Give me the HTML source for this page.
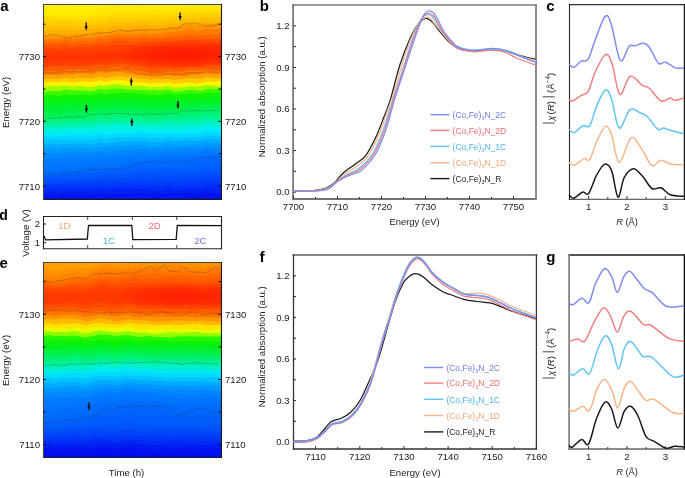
<!DOCTYPE html>
<html><head><meta charset="utf-8"><style>
html,body{margin:0;padding:0;background:#fff;width:685px;height:478px;overflow:hidden;position:relative}
svg text{font-family:"Liberation Sans", sans-serif}
svg{will-change:transform}
</style></head><body>
<svg width="685" height="478" viewBox="0 0 685 478" style="position:absolute;left:0;top:0">
<svg x="43" y="4" width="178" height="195" viewBox="43 4 178 195" overflow="hidden">
<rect x="43" y="4" width="178" height="195" fill="rgb(255,240,0)"/>
<path d="M43,201 L43.0,8.5 L46.0,8.5 L49.0,8.1 L52.0,7.8 L55.0,8.0 L58.0,7.9 L61.0,7.7 L64.0,7.4 L67.0,7.5 L70.0,8.1 L73.0,8.8 L76.0,7.9 L79.0,7.8 L82.0,7.7 L85.0,7.9 L88.0,8.5 L91.0,8.4 L94.0,7.8 L97.0,6.9 L100.0,6.5 L103.0,7.0 L106.0,7.2 L109.0,6.7 L112.0,6.1 L115.0,5.4 L118.0,5.5 L121.0,5.7 L124.0,6.3 L127.0,6.1 L130.0,6.3 L133.0,5.9 L136.0,6.0 L139.0,5.8 L142.0,5.2 L145.0,5.5 L148.0,5.7 L151.0,6.0 L154.0,5.4 L157.0,6.0 L160.0,5.8 L163.0,5.6 L166.0,5.0 L169.0,4.8 L172.0,5.2 L175.0,5.6 L178.0,5.0 L181.0,4.7 L184.0,4.0 L187.0,3.7 L190.0,3.6 L193.0,4.1 L196.0,5.0 L199.0,5.3 L202.0,4.8 L205.0,4.1 L208.0,3.8 L211.0,3.6 L214.0,3.6 L217.0,3.4 L220.0,3.0 L221.0,3.0 L221,201 Z" fill="rgb(255,234,0)"/>
<path d="M43,201 L43.0,12.1 L46.0,12.4 L49.0,11.7 L52.0,11.4 L55.0,12.1 L58.0,12.6 L61.0,12.2 L64.0,11.7 L67.0,11.7 L70.0,11.8 L73.0,12.5 L76.0,11.6 L79.0,11.3 L82.0,11.6 L85.0,11.7 L88.0,11.9 L91.0,12.1 L94.0,12.1 L97.0,10.6 L100.0,9.8 L103.0,10.5 L106.0,10.7 L109.0,9.9 L112.0,9.6 L115.0,9.5 L118.0,9.6 L121.0,9.3 L124.0,10.1 L127.0,10.1 L130.0,9.8 L133.0,9.3 L136.0,9.8 L139.0,9.5 L142.0,9.1 L145.0,9.3 L148.0,9.7 L151.0,9.9 L154.0,9.2 L157.0,9.7 L160.0,10.1 L163.0,9.8 L166.0,9.5 L169.0,9.2 L172.0,9.5 L175.0,9.7 L178.0,9.3 L181.0,8.8 L184.0,8.1 L187.0,7.7 L190.0,7.0 L193.0,7.4 L196.0,8.3 L199.0,8.6 L202.0,8.0 L205.0,7.7 L208.0,7.5 L211.0,7.6 L214.0,8.0 L217.0,8.0 L220.0,7.3 L221.0,7.2 L221,201 Z" fill="rgb(255,228,0)"/>
<path d="M43,201 L43.0,16.9 L46.0,16.8 L49.0,16.4 L52.0,16.1 L55.0,17.0 L58.0,17.4 L61.0,17.0 L64.0,16.2 L67.0,16.3 L70.0,16.7 L73.0,17.4 L76.0,16.7 L79.0,16.6 L82.0,16.5 L85.0,16.4 L88.0,16.8 L91.0,16.7 L94.0,16.7 L97.0,15.7 L100.0,14.9 L103.0,15.6 L106.0,15.7 L109.0,15.1 L112.0,14.1 L115.0,13.5 L118.0,13.3 L121.0,13.2 L124.0,13.6 L127.0,13.8 L130.0,13.9 L133.0,13.4 L136.0,13.6 L139.0,13.4 L142.0,13.3 L145.0,13.4 L148.0,13.9 L151.0,14.7 L154.0,13.9 L157.0,14.1 L160.0,13.9 L163.0,13.3 L166.0,12.1 L169.0,12.1 L172.0,12.5 L175.0,13.2 L178.0,12.8 L181.0,12.9 L184.0,12.3 L187.0,11.7 L190.0,11.2 L193.0,11.3 L196.0,11.5 L199.0,11.2 L202.0,11.2 L205.0,10.5 L208.0,10.7 L211.0,11.1 L214.0,11.5 L217.0,11.3 L220.0,11.1 L221.0,10.8 L221,201 Z" fill="rgb(255,216,0)"/>
<path d="M43,201 L43.0,21.3 L46.0,21.1 L49.0,21.1 L52.0,21.0 L55.0,21.0 L58.0,21.4 L61.0,21.1 L64.0,20.4 L67.0,20.3 L70.0,21.1 L73.0,21.9 L76.0,21.4 L79.0,21.4 L82.0,21.2 L85.0,20.8 L88.0,21.1 L91.0,20.6 L94.0,20.0 L97.0,18.8 L100.0,18.1 L103.0,19.0 L106.0,19.2 L109.0,18.6 L112.0,18.1 L115.0,17.8 L118.0,17.1 L121.0,17.4 L124.0,17.9 L127.0,18.1 L130.0,17.8 L133.0,17.6 L136.0,17.6 L139.0,17.6 L142.0,17.2 L145.0,17.7 L148.0,18.1 L151.0,18.4 L154.0,17.4 L157.0,17.6 L160.0,17.5 L163.0,17.0 L166.0,16.2 L169.0,16.1 L172.0,16.3 L175.0,16.8 L178.0,16.5 L181.0,16.6 L184.0,15.7 L187.0,15.2 L190.0,14.6 L193.0,14.6 L196.0,15.0 L199.0,15.3 L202.0,15.1 L205.0,14.4 L208.0,14.3 L211.0,14.4 L214.0,14.6 L217.0,14.5 L220.0,13.9 L221.0,14.0 L221,201 Z" fill="rgb(255,205,0)"/>
<path d="M43,201 L43.0,25.7 L46.0,25.8 L49.0,25.5 L52.0,25.4 L55.0,26.3 L58.0,26.3 L61.0,26.1 L64.0,25.6 L67.0,25.4 L70.0,25.8 L73.0,26.6 L76.0,25.8 L79.0,25.8 L82.0,25.9 L85.0,25.4 L88.0,25.6 L91.0,25.3 L94.0,24.8 L97.0,23.4 L100.0,23.1 L103.0,23.7 L106.0,24.0 L109.0,22.9 L112.0,22.2 L115.0,21.7 L118.0,21.9 L121.0,21.7 L124.0,22.5 L127.0,22.7 L130.0,22.3 L133.0,21.7 L136.0,21.6 L139.0,21.3 L142.0,21.0 L145.0,21.2 L148.0,21.4 L151.0,21.6 L154.0,21.3 L157.0,21.7 L160.0,21.7 L163.0,21.6 L166.0,21.3 L169.0,20.5 L172.0,20.4 L175.0,20.5 L178.0,19.7 L181.0,18.9 L184.0,18.4 L187.0,17.9 L190.0,17.7 L193.0,17.6 L196.0,18.3 L199.0,18.0 L202.0,17.7 L205.0,16.8 L208.0,17.1 L211.0,17.3 L214.0,17.9 L217.0,18.0 L220.0,17.5 L221.0,17.3 L221,201 Z" fill="rgb(255,191,0)"/>
<path d="M43,201 L43.0,31.2 L46.0,31.2 L49.0,30.6 L52.0,30.2 L55.0,30.7 L58.0,30.8 L61.0,30.3 L64.0,29.9 L67.0,30.2 L70.0,30.8 L73.0,31.6 L76.0,30.8 L79.0,30.3 L82.0,29.5 L85.0,29.2 L88.0,29.6 L91.0,29.2 L94.0,29.1 L97.0,28.4 L100.0,27.6 L103.0,28.0 L106.0,28.4 L109.0,27.5 L112.0,26.7 L115.0,26.3 L118.0,26.1 L121.0,26.0 L124.0,26.6 L127.0,26.6 L130.0,26.3 L133.0,25.7 L136.0,25.6 L139.0,25.2 L142.0,24.7 L145.0,25.1 L148.0,25.1 L151.0,25.8 L154.0,25.3 L157.0,25.4 L160.0,25.3 L163.0,25.2 L166.0,24.4 L169.0,23.5 L172.0,23.9 L175.0,24.2 L178.0,23.7 L181.0,23.1 L184.0,22.8 L187.0,22.2 L190.0,21.5 L193.0,21.6 L196.0,22.5 L199.0,22.3 L202.0,22.0 L205.0,21.5 L208.0,21.4 L211.0,21.7 L214.0,22.0 L217.0,21.9 L220.0,21.4 L221.0,21.2 L221,201 Z" fill="rgb(255,174,0)"/>
<path d="M43,201 L43.0,35.8 L46.0,35.9 L49.0,35.6 L52.0,34.8 L55.0,34.9 L58.0,35.3 L61.0,35.1 L64.0,34.3 L67.0,34.4 L70.0,34.9 L73.0,35.5 L76.0,34.5 L79.0,34.6 L82.0,34.6 L85.0,34.2 L88.0,34.4 L91.0,34.2 L94.0,33.5 L97.0,32.1 L100.0,31.4 L103.0,32.1 L106.0,32.2 L109.0,31.7 L112.0,31.1 L115.0,30.7 L118.0,30.4 L121.0,30.2 L124.0,30.5 L127.0,30.2 L130.0,29.8 L133.0,29.4 L136.0,29.2 L139.0,29.2 L142.0,28.7 L145.0,29.1 L148.0,29.3 L151.0,30.2 L154.0,29.3 L157.0,30.0 L160.0,29.7 L163.0,29.5 L166.0,28.4 L169.0,27.6 L172.0,27.3 L175.0,27.4 L178.0,26.7 L181.0,25.9 L184.0,25.1 L187.0,24.5 L190.0,24.0 L193.0,24.0 L196.0,24.9 L199.0,25.1 L202.0,24.9 L205.0,24.5 L208.0,24.3 L211.0,24.2 L214.0,24.3 L217.0,24.0 L220.0,23.5 L221.0,23.9 L221,201 Z" fill="rgb(255,149,0)"/>
<path d="M43,201 L43.0,39.5 L46.0,39.3 L49.0,38.9 L52.0,38.6 L55.0,39.0 L58.0,38.9 L61.0,38.7 L64.0,38.0 L67.0,37.8 L70.0,38.0 L73.0,38.8 L76.0,37.8 L79.0,37.5 L82.0,37.5 L85.0,37.6 L88.0,38.0 L91.0,38.1 L94.0,37.7 L97.0,36.4 L100.0,35.8 L103.0,36.3 L106.0,36.1 L109.0,35.4 L112.0,34.6 L115.0,34.0 L118.0,33.8 L121.0,33.8 L124.0,34.3 L127.0,34.4 L130.0,34.3 L133.0,34.1 L136.0,34.2 L139.0,34.0 L142.0,33.4 L145.0,33.6 L148.0,33.8 L151.0,34.2 L154.0,33.3 L157.0,33.9 L160.0,33.8 L163.0,33.3 L166.0,32.3 L169.0,32.0 L172.0,32.0 L175.0,32.1 L178.0,31.3 L181.0,31.2 L184.0,30.2 L187.0,29.6 L190.0,29.5 L193.0,29.7 L196.0,30.1 L199.0,30.4 L202.0,30.3 L205.0,29.2 L208.0,28.7 L211.0,29.2 L214.0,29.4 L217.0,29.0 L220.0,28.9 L221.0,29.2 L221,201 Z" fill="rgb(255,123,0)"/>
<path d="M43,201 L43.0,41.7 L46.0,41.9 L49.0,41.7 L52.0,41.1 L55.0,41.7 L58.0,41.8 L61.0,41.4 L64.0,40.5 L67.0,40.8 L70.0,41.3 L73.0,42.1 L76.0,41.0 L79.0,41.3 L82.0,41.0 L85.0,40.9 L88.0,41.0 L91.0,41.3 L94.0,40.6 L97.0,39.3 L100.0,38.5 L103.0,39.5 L106.0,39.5 L109.0,38.7 L112.0,38.2 L115.0,37.5 L118.0,37.5 L121.0,37.2 L124.0,38.0 L127.0,38.1 L130.0,38.1 L133.0,37.5 L136.0,37.8 L139.0,37.4 L142.0,36.9 L145.0,37.2 L148.0,37.4 L151.0,38.0 L154.0,37.3 L157.0,37.9 L160.0,38.0 L163.0,37.8 L166.0,36.7 L169.0,36.4 L172.0,36.4 L175.0,36.3 L178.0,35.7 L181.0,35.4 L184.0,34.9 L187.0,34.6 L190.0,34.3 L193.0,34.4 L196.0,35.2 L199.0,35.3 L202.0,35.1 L205.0,34.6 L208.0,34.6 L211.0,34.8 L214.0,34.9 L217.0,34.6 L220.0,33.9 L221.0,34.2 L221,201 Z" fill="rgb(255,100,0)"/>
<path d="M43,201 L43.0,44.7 L46.0,44.7 L49.0,44.4 L52.0,44.1 L55.0,44.8 L58.0,44.8 L61.0,44.6 L64.0,44.1 L67.0,44.6 L70.0,44.6 L73.0,45.5 L76.0,44.8 L79.0,44.4 L82.0,43.9 L85.0,44.2 L88.0,44.5 L91.0,44.2 L94.0,44.1 L97.0,43.3 L100.0,42.5 L103.0,43.2 L106.0,43.1 L109.0,42.2 L112.0,41.5 L115.0,40.9 L118.0,40.6 L121.0,40.6 L124.0,41.2 L127.0,41.3 L130.0,41.6 L133.0,41.2 L136.0,41.4 L139.0,41.7 L142.0,41.0 L145.0,41.0 L148.0,41.3 L151.0,41.8 L154.0,40.7 L157.0,41.3 L160.0,41.6 L163.0,41.8 L166.0,41.5 L169.0,41.5 L172.0,41.6 L175.0,41.9 L178.0,41.5 L181.0,41.2 L184.0,40.5 L187.0,39.9 L190.0,39.7 L193.0,39.6 L196.0,40.0 L199.0,40.1 L202.0,40.2 L205.0,39.2 L208.0,38.7 L211.0,38.9 L214.0,39.2 L217.0,38.9 L220.0,38.7 L221.0,39.1 L221,201 Z" fill="rgb(254,82,0)"/>
<path d="M43,201 L43.0,48.9 L46.0,48.7 L49.0,48.5 L52.0,47.8 L55.0,48.3 L58.0,48.7 L61.0,48.7 L64.0,47.5 L67.0,47.5 L70.0,47.8 L73.0,48.3 L76.0,47.2 L79.0,47.6 L82.0,47.4 L85.0,47.3 L88.0,47.6 L91.0,47.5 L94.0,46.8 L97.0,46.2 L100.0,45.8 L103.0,46.3 L106.0,46.7 L109.0,46.1 L112.0,45.5 L115.0,44.6 L118.0,44.6 L121.0,44.5 L124.0,45.3 L127.0,45.1 L130.0,44.9 L133.0,45.2 L136.0,45.7 L139.0,45.8 L142.0,45.7 L145.0,46.2 L148.0,46.1 L151.0,46.5 L154.0,45.5 L157.0,45.9 L160.0,46.2 L163.0,46.4 L166.0,45.8 L169.0,45.3 L172.0,45.9 L175.0,46.1 L178.0,45.6 L181.0,45.6 L184.0,45.5 L187.0,45.2 L190.0,44.9 L193.0,45.0 L196.0,45.6 L199.0,45.2 L202.0,44.7 L205.0,43.8 L208.0,43.4 L211.0,43.2 L214.0,43.6 L217.0,43.7 L220.0,43.2 L221.0,43.6 L221,201 Z" fill="rgb(255,65,0)"/>
<path d="M43,201 L43.0,51.5 L46.0,51.7 L49.0,51.4 L52.0,51.2 L55.0,51.4 L58.0,52.1 L61.0,51.5 L64.0,50.7 L67.0,50.5 L70.0,51.3 L73.0,51.7 L76.0,51.2 L79.0,51.5 L82.0,51.8 L85.0,51.8 L88.0,52.4 L91.0,52.5 L94.0,52.1 L97.0,50.6 L100.0,49.9 L103.0,50.5 L106.0,50.7 L109.0,50.3 L112.0,50.0 L115.0,49.7 L118.0,49.5 L121.0,49.5 L124.0,49.9 L127.0,49.8 L130.0,49.6 L133.0,49.8 L136.0,49.8 L139.0,49.7 L142.0,49.5 L145.0,49.9 L148.0,50.0 L151.0,50.7 L154.0,50.1 L157.0,50.5 L160.0,50.7 L163.0,50.3 L166.0,49.2 L169.0,49.1 L172.0,49.4 L175.0,49.5 L178.0,49.2 L181.0,49.4 L184.0,49.0 L187.0,48.6 L190.0,48.3 L193.0,48.8 L196.0,49.3 L199.0,49.0 L202.0,49.1 L205.0,48.3 L208.0,47.8 L211.0,48.1 L214.0,48.8 L217.0,48.4 L220.0,48.5 L221.0,48.9 L221,201 Z" fill="rgb(255,57,0)"/>
<path d="M43,201 L43.0,56.0 L46.0,56.1 L49.0,55.7 L52.0,55.5 L55.0,56.0 L58.0,56.5 L61.0,55.8 L64.0,54.8 L67.0,54.8 L70.0,55.1 L73.0,55.5 L76.0,54.8 L79.0,54.9 L82.0,54.8 L85.0,54.9 L88.0,55.3 L91.0,55.2 L94.0,55.1 L97.0,53.8 L100.0,53.0 L103.0,53.6 L106.0,54.2 L109.0,53.3 L112.0,52.5 L115.0,52.2 L118.0,52.5 L121.0,52.6 L124.0,53.6 L127.0,54.0 L130.0,54.0 L133.0,53.7 L136.0,54.0 L139.0,53.9 L142.0,54.0 L145.0,54.6 L148.0,54.8 L151.0,55.4 L154.0,54.6 L157.0,54.6 L160.0,54.5 L163.0,54.5 L166.0,53.8 L169.0,54.0 L172.0,54.3 L175.0,54.9 L178.0,54.7 L181.0,54.8 L184.0,54.1 L187.0,54.0 L190.0,53.6 L193.0,53.7 L196.0,54.2 L199.0,54.2 L202.0,54.2 L205.0,53.7 L208.0,53.4 L211.0,53.3 L214.0,53.5 L217.0,53.4 L220.0,52.8 L221.0,53.0 L221,201 Z" fill="rgb(255,50,0)"/>
<path d="M43,201 L43.0,58.9 L46.0,58.9 L49.0,58.4 L52.0,57.9 L55.0,58.3 L58.0,58.9 L61.0,58.6 L64.0,58.1 L67.0,58.5 L70.0,58.8 L73.0,59.3 L76.0,58.5 L79.0,58.7 L82.0,58.3 L85.0,58.7 L88.0,59.1 L91.0,59.1 L94.0,58.7 L97.0,58.0 L100.0,57.5 L103.0,58.0 L106.0,57.9 L109.0,57.7 L112.0,56.7 L115.0,56.0 L118.0,56.1 L121.0,56.3 L124.0,56.9 L127.0,57.1 L130.0,57.5 L133.0,57.8 L136.0,57.9 L139.0,58.0 L142.0,58.2 L145.0,58.6 L148.0,58.7 L151.0,59.4 L154.0,59.0 L157.0,59.3 L160.0,59.2 L163.0,59.1 L166.0,58.4 L169.0,58.1 L172.0,58.1 L175.0,58.7 L178.0,58.2 L181.0,58.2 L184.0,57.9 L187.0,58.0 L190.0,58.0 L193.0,58.4 L196.0,58.6 L199.0,58.3 L202.0,57.9 L205.0,56.8 L208.0,56.4 L211.0,57.1 L214.0,57.3 L217.0,57.3 L220.0,56.9 L221.0,57.0 L221,201 Z" fill="rgb(255,55,0)"/>
<path d="M43,201 L43.0,63.4 L46.0,63.5 L49.0,63.2 L52.0,62.8 L55.0,63.5 L58.0,63.5 L61.0,62.7 L64.0,62.3 L67.0,62.2 L70.0,62.2 L73.0,62.6 L76.0,62.2 L79.0,62.1 L82.0,62.3 L85.0,62.7 L88.0,63.2 L91.0,63.0 L94.0,62.6 L97.0,61.5 L100.0,60.9 L103.0,61.6 L106.0,61.7 L109.0,61.4 L112.0,60.6 L115.0,59.8 L118.0,59.8 L121.0,60.1 L124.0,60.7 L127.0,61.2 L130.0,61.5 L133.0,61.7 L136.0,61.9 L139.0,62.1 L142.0,61.7 L145.0,62.3 L148.0,62.4 L151.0,63.1 L154.0,62.4 L157.0,62.8 L160.0,62.7 L163.0,62.8 L166.0,62.2 L169.0,62.3 L172.0,62.9 L175.0,63.5 L178.0,62.8 L181.0,62.9 L184.0,62.4 L187.0,62.2 L190.0,62.0 L193.0,62.6 L196.0,63.0 L199.0,62.8 L202.0,62.3 L205.0,61.1 L208.0,60.4 L211.0,60.5 L214.0,60.6 L217.0,60.7 L220.0,60.7 L221.0,61.2 L221,201 Z" fill="rgb(255,65,0)"/>
<path d="M43,201 L43.0,67.1 L46.0,67.1 L49.0,66.6 L52.0,66.1 L55.0,66.3 L58.0,66.4 L61.0,65.8 L64.0,65.3 L67.0,65.5 L70.0,66.2 L73.0,66.7 L76.0,66.1 L79.0,66.2 L82.0,65.8 L85.0,65.5 L88.0,65.8 L91.0,65.6 L94.0,65.4 L97.0,64.7 L100.0,64.1 L103.0,64.8 L106.0,65.2 L109.0,64.4 L112.0,63.6 L115.0,63.3 L118.0,63.4 L121.0,63.1 L124.0,63.8 L127.0,64.2 L130.0,64.7 L133.0,65.1 L136.0,65.8 L139.0,66.4 L142.0,66.4 L145.0,66.7 L148.0,66.9 L151.0,67.9 L154.0,67.1 L157.0,67.6 L160.0,67.8 L163.0,68.0 L166.0,67.2 L169.0,67.3 L172.0,67.6 L175.0,68.1 L178.0,67.6 L181.0,67.6 L184.0,67.1 L187.0,66.9 L190.0,66.4 L193.0,66.7 L196.0,67.1 L199.0,67.0 L202.0,66.4 L205.0,65.6 L208.0,64.9 L211.0,64.8 L214.0,65.1 L217.0,65.2 L220.0,64.8 L221.0,65.1 L221,201 Z" fill="rgb(255,89,0)"/>
<path d="M43,201 L43.0,70.7 L46.0,70.9 L49.0,70.6 L52.0,70.3 L55.0,71.0 L58.0,71.5 L61.0,71.0 L64.0,70.0 L67.0,69.8 L70.0,69.9 L73.0,70.2 L76.0,69.5 L79.0,69.5 L82.0,69.7 L85.0,69.6 L88.0,70.3 L91.0,70.3 L94.0,70.0 L97.0,68.9 L100.0,68.4 L103.0,69.0 L106.0,69.0 L109.0,68.6 L112.0,67.5 L115.0,67.4 L118.0,67.1 L121.0,67.4 L124.0,68.4 L127.0,69.1 L130.0,69.1 L133.0,69.7 L136.0,70.4 L139.0,70.8 L142.0,70.8 L145.0,71.7 L148.0,72.1 L151.0,72.5 L154.0,71.9 L157.0,72.2 L160.0,72.2 L163.0,72.1 L166.0,71.5 L169.0,71.2 L172.0,71.5 L175.0,72.0 L178.0,71.2 L181.0,71.3 L184.0,70.6 L187.0,70.4 L190.0,69.8 L193.0,70.0 L196.0,70.2 L199.0,70.3 L202.0,70.0 L205.0,69.6 L208.0,69.7 L211.0,69.9 L214.0,70.5 L217.0,70.6 L220.0,69.9 L221.0,70.1 L221,201 Z" fill="rgb(255,121,0)"/>
<path d="M43,201 L43.0,74.7 L46.0,75.2 L49.0,74.7 L52.0,74.6 L55.0,75.0 L58.0,75.2 L61.0,74.8 L64.0,74.3 L67.0,73.7 L70.0,74.0 L73.0,74.5 L76.0,73.2 L79.0,73.2 L82.0,73.3 L85.0,73.6 L88.0,74.1 L91.0,74.3 L94.0,73.5 L97.0,72.6 L100.0,72.1 L103.0,72.6 L106.0,72.9 L109.0,72.7 L112.0,71.9 L115.0,71.4 L118.0,71.9 L121.0,71.8 L124.0,72.7 L127.0,73.2 L130.0,73.5 L133.0,73.3 L136.0,74.2 L139.0,74.2 L142.0,74.4 L145.0,75.0 L148.0,75.7 L151.0,76.4 L154.0,75.9 L157.0,76.2 L160.0,76.1 L163.0,76.0 L166.0,75.4 L169.0,75.1 L172.0,75.6 L175.0,76.2 L178.0,75.7 L181.0,75.9 L184.0,75.9 L187.0,75.5 L190.0,75.0 L193.0,74.9 L196.0,74.8 L199.0,74.2 L202.0,73.8 L205.0,73.2 L208.0,73.1 L211.0,73.7 L214.0,74.1 L217.0,74.0 L220.0,73.8 L221.0,74.1 L221,201 Z" fill="rgb(255,163,0)"/>
<path d="M43,201 L43.0,79.0 L46.0,79.1 L49.0,79.1 L52.0,78.7 L55.0,78.7 L58.0,79.0 L61.0,78.6 L64.0,78.1 L67.0,78.1 L70.0,78.6 L73.0,78.9 L76.0,77.9 L79.0,77.9 L82.0,78.0 L85.0,78.0 L88.0,78.6 L91.0,78.5 L94.0,77.9 L97.0,76.8 L100.0,76.7 L103.0,77.5 L106.0,77.9 L109.0,77.6 L112.0,76.9 L115.0,76.3 L118.0,76.1 L121.0,76.3 L124.0,76.7 L127.0,77.0 L130.0,77.1 L133.0,77.3 L136.0,77.8 L139.0,78.3 L142.0,78.6 L145.0,79.0 L148.0,79.1 L151.0,79.9 L154.0,79.1 L157.0,79.0 L160.0,79.3 L163.0,79.5 L166.0,78.9 L169.0,78.9 L172.0,79.5 L175.0,80.1 L178.0,79.7 L181.0,79.4 L184.0,78.9 L187.0,78.6 L190.0,78.2 L193.0,78.3 L196.0,78.6 L199.0,78.6 L202.0,78.4 L205.0,77.4 L208.0,77.2 L211.0,77.7 L214.0,78.0 L217.0,78.0 L220.0,78.1 L221.0,78.2 L221,201 Z" fill="rgb(255,202,0)"/>
<path d="M43,201 L43.0,82.4 L46.0,82.5 L49.0,82.1 L52.0,81.7 L55.0,82.0 L58.0,82.4 L61.0,82.2 L64.0,81.5 L67.0,81.6 L70.0,82.2 L73.0,82.7 L76.0,81.9 L79.0,82.0 L82.0,81.7 L85.0,81.8 L88.0,81.9 L91.0,82.1 L94.0,81.6 L97.0,80.9 L100.0,80.3 L103.0,81.4 L106.0,81.5 L109.0,81.2 L112.0,80.5 L115.0,80.0 L118.0,79.8 L121.0,79.8 L124.0,80.5 L127.0,80.8 L130.0,81.3 L133.0,81.4 L136.0,82.1 L139.0,82.3 L142.0,82.4 L145.0,82.5 L148.0,82.9 L151.0,83.2 L154.0,82.8 L157.0,82.9 L160.0,83.1 L163.0,82.9 L166.0,82.6 L169.0,82.3 L172.0,83.1 L175.0,83.8 L178.0,83.4 L181.0,83.0 L184.0,82.8 L187.0,82.5 L190.0,82.2 L193.0,82.7 L196.0,83.4 L199.0,82.9 L202.0,82.8 L205.0,81.9 L208.0,81.2 L211.0,81.2 L214.0,81.7 L217.0,81.2 L220.0,81.1 L221.0,81.6 L221,201 Z" fill="rgb(255,244,0)"/>
<path d="M43,201 L43.0,87.3 L46.0,87.1 L49.0,86.5 L52.0,85.7 L55.0,86.1 L58.0,86.4 L61.0,86.0 L64.0,85.6 L67.0,85.9 L70.0,86.2 L73.0,86.8 L76.0,86.1 L79.0,86.3 L82.0,86.1 L85.0,86.6 L88.0,87.1 L91.0,87.3 L94.0,86.7 L97.0,85.6 L100.0,84.7 L103.0,85.4 L106.0,85.4 L109.0,85.1 L112.0,84.6 L115.0,84.2 L118.0,83.9 L121.0,84.4 L124.0,84.9 L127.0,85.4 L130.0,85.8 L133.0,85.7 L136.0,86.0 L139.0,86.0 L142.0,85.7 L145.0,85.9 L148.0,86.7 L151.0,87.2 L154.0,86.7 L157.0,87.1 L160.0,87.3 L163.0,86.7 L166.0,86.0 L169.0,86.2 L172.0,86.9 L175.0,87.6 L178.0,87.2 L181.0,87.5 L184.0,86.9 L187.0,86.7 L190.0,86.0 L193.0,86.2 L196.0,86.7 L199.0,86.5 L202.0,85.7 L205.0,85.1 L208.0,85.2 L211.0,85.4 L214.0,85.7 L217.0,86.2 L220.0,86.1 L221.0,86.3 L221,201 Z" fill="rgb(151,253,0)"/>
<path d="M43,201 L43.0,91.6 L46.0,91.7 L49.0,91.6 L52.0,91.0 L55.0,91.3 L58.0,91.4 L61.0,90.9 L64.0,89.8 L67.0,89.8 L70.0,90.3 L73.0,90.8 L76.0,90.3 L79.0,90.6 L82.0,90.5 L85.0,90.5 L88.0,91.2 L91.0,91.3 L94.0,90.9 L97.0,89.5 L100.0,89.1 L103.0,89.4 L106.0,89.7 L109.0,89.3 L112.0,88.9 L115.0,88.5 L118.0,88.8 L121.0,88.7 L124.0,89.3 L127.0,89.6 L130.0,89.8 L133.0,89.5 L136.0,89.8 L139.0,90.2 L142.0,89.8 L145.0,89.9 L148.0,90.1 L151.0,90.6 L154.0,90.0 L157.0,90.4 L160.0,90.5 L163.0,90.4 L166.0,89.9 L169.0,89.7 L172.0,90.6 L175.0,91.5 L178.0,91.4 L181.0,91.1 L184.0,90.4 L187.0,90.0 L190.0,89.7 L193.0,89.6 L196.0,90.6 L199.0,90.7 L202.0,90.4 L205.0,89.5 L208.0,89.1 L211.0,88.8 L214.0,89.4 L217.0,89.1 L220.0,88.6 L221.0,89.0 L221,201 Z" fill="rgb(60,248,0)"/>
<path d="M43,201 L43.0,95.1 L46.0,95.2 L49.0,94.8 L52.0,94.9 L55.0,95.6 L58.0,96.0 L61.0,95.2 L64.0,94.6 L67.0,94.6 L70.0,94.8 L73.0,95.1 L76.0,94.4 L79.0,94.4 L82.0,94.2 L85.0,93.9 L88.0,94.3 L91.0,94.6 L94.0,94.5 L97.0,93.2 L100.0,93.0 L103.0,94.0 L106.0,94.3 L109.0,93.7 L112.0,93.7 L115.0,93.1 L118.0,92.8 L121.0,92.5 L124.0,93.1 L127.0,92.8 L130.0,92.7 L133.0,92.6 L136.0,92.9 L139.0,93.3 L142.0,93.3 L145.0,94.1 L148.0,94.7 L151.0,95.4 L154.0,94.7 L157.0,94.9 L160.0,95.1 L163.0,94.6 L166.0,93.9 L169.0,93.5 L172.0,94.0 L175.0,94.3 L178.0,94.0 L181.0,94.3 L184.0,93.7 L187.0,93.8 L190.0,93.2 L193.0,93.4 L196.0,93.7 L199.0,93.8 L202.0,93.4 L205.0,92.8 L208.0,92.5 L211.0,92.5 L214.0,93.0 L217.0,92.9 L220.0,92.8 L221.0,93.2 L221,201 Z" fill="rgb(17,245,4)"/>
<path d="M43,201 L43.0,99.0 L46.0,99.2 L49.0,99.3 L52.0,99.2 L55.0,99.9 L58.0,99.9 L61.0,99.2 L64.0,98.3 L67.0,98.4 L70.0,98.7 L73.0,99.7 L76.0,99.3 L79.0,99.2 L82.0,99.0 L85.0,99.0 L88.0,99.1 L91.0,99.0 L94.0,98.7 L97.0,97.9 L100.0,97.4 L103.0,98.1 L106.0,98.5 L109.0,98.2 L112.0,97.5 L115.0,97.2 L118.0,97.4 L121.0,97.3 L124.0,97.6 L127.0,97.5 L130.0,97.5 L133.0,96.9 L136.0,97.1 L139.0,97.6 L142.0,97.5 L145.0,97.8 L148.0,98.4 L151.0,99.3 L154.0,98.5 L157.0,99.1 L160.0,99.2 L163.0,99.0 L166.0,98.1 L169.0,97.7 L172.0,98.2 L175.0,98.5 L178.0,98.3 L181.0,98.3 L184.0,97.9 L187.0,97.3 L190.0,97.1 L193.0,97.2 L196.0,97.7 L199.0,97.9 L202.0,97.7 L205.0,96.7 L208.0,96.2 L211.0,96.5 L214.0,96.7 L217.0,96.6 L220.0,96.7 L221.0,97.4 L221,201 Z" fill="rgb(8,243,22)"/>
<path d="M43,201 L43.0,104.2 L46.0,104.4 L49.0,104.2 L52.0,103.6 L55.0,103.7 L58.0,104.0 L61.0,103.4 L64.0,102.8 L67.0,102.7 L70.0,103.2 L73.0,103.8 L76.0,102.7 L79.0,102.8 L82.0,102.7 L85.0,102.7 L88.0,103.3 L91.0,103.3 L94.0,102.7 L97.0,101.5 L100.0,100.7 L103.0,101.7 L106.0,102.2 L109.0,102.1 L112.0,101.5 L115.0,101.4 L118.0,101.0 L121.0,100.9 L124.0,101.3 L127.0,101.4 L130.0,101.1 L133.0,101.0 L136.0,101.5 L139.0,101.6 L142.0,101.6 L145.0,102.2 L148.0,102.5 L151.0,102.8 L154.0,102.1 L157.0,102.5 L160.0,102.3 L163.0,102.0 L166.0,101.2 L169.0,100.9 L172.0,101.4 L175.0,102.3 L178.0,102.1 L181.0,102.5 L184.0,102.3 L187.0,101.9 L190.0,101.3 L193.0,101.1 L196.0,101.3 L199.0,100.9 L202.0,100.7 L205.0,99.8 L208.0,99.9 L211.0,100.6 L214.0,100.7 L217.0,100.3 L220.0,100.0 L221.0,100.2 L221,201 Z" fill="rgb(0,242,40)"/>
<path d="M43,201 L43.0,108.3 L46.0,108.0 L49.0,107.5 L52.0,107.3 L55.0,107.4 L58.0,107.6 L61.0,107.4 L64.0,106.9 L67.0,106.9 L70.0,107.2 L73.0,108.1 L76.0,107.0 L79.0,107.0 L82.0,106.9 L85.0,107.0 L88.0,107.0 L91.0,106.9 L94.0,106.3 L97.0,105.3 L100.0,105.0 L103.0,105.7 L106.0,106.0 L109.0,106.1 L112.0,105.2 L115.0,104.9 L118.0,105.2 L121.0,105.2 L124.0,105.6 L127.0,105.7 L130.0,105.2 L133.0,104.7 L136.0,105.1 L139.0,105.1 L142.0,105.1 L145.0,105.9 L148.0,106.4 L151.0,106.9 L154.0,106.0 L157.0,106.6 L160.0,106.4 L163.0,106.4 L166.0,106.0 L169.0,105.7 L172.0,105.7 L175.0,106.2 L178.0,105.5 L181.0,105.1 L184.0,104.5 L187.0,104.2 L190.0,103.8 L193.0,103.9 L196.0,104.5 L199.0,104.8 L202.0,104.7 L205.0,104.1 L208.0,104.1 L211.0,104.3 L214.0,104.4 L217.0,104.1 L220.0,103.9 L221.0,104.2 L221,201 Z" fill="rgb(0,242,63)"/>
<path d="M43,201 L43.0,113.5 L46.0,113.6 L49.0,113.1 L52.0,113.1 L55.0,113.9 L58.0,114.0 L61.0,113.3 L64.0,112.6 L67.0,112.2 L70.0,112.2 L73.0,112.7 L76.0,111.5 L79.0,111.1 L82.0,110.7 L85.0,110.8 L88.0,111.3 L91.0,111.5 L94.0,111.1 L97.0,110.1 L100.0,109.6 L103.0,109.9 L106.0,109.8 L109.0,109.7 L112.0,109.0 L115.0,108.6 L118.0,108.6 L121.0,109.1 L124.0,109.4 L127.0,109.5 L130.0,109.3 L133.0,109.5 L136.0,109.9 L139.0,110.3 L142.0,110.3 L145.0,110.5 L148.0,110.4 L151.0,110.8 L154.0,110.2 L157.0,110.6 L160.0,110.8 L163.0,110.7 L166.0,110.1 L169.0,109.4 L172.0,109.8 L175.0,110.5 L178.0,110.2 L181.0,109.9 L184.0,109.5 L187.0,108.8 L190.0,108.0 L193.0,108.2 L196.0,108.3 L199.0,108.0 L202.0,107.8 L205.0,107.5 L208.0,106.8 L211.0,107.1 L214.0,107.7 L217.0,107.5 L220.0,106.9 L221.0,107.3 L221,201 Z" fill="rgb(0,242,86)"/>
<path d="M43,201 L43.0,118.3 L46.0,118.4 L49.0,117.7 L52.0,117.3 L55.0,117.7 L58.0,117.9 L61.0,117.5 L64.0,116.9 L67.0,116.8 L70.0,117.3 L73.0,118.2 L76.0,117.3 L79.0,116.9 L82.0,116.5 L85.0,116.5 L88.0,116.5 L91.0,116.3 L94.0,115.7 L97.0,114.3 L100.0,113.3 L103.0,113.9 L106.0,114.3 L109.0,113.8 L112.0,113.1 L115.0,112.7 L118.0,112.8 L121.0,112.4 L124.0,112.9 L127.0,113.1 L130.0,113.2 L133.0,113.3 L136.0,113.5 L139.0,113.8 L142.0,113.4 L145.0,113.7 L148.0,113.8 L151.0,114.8 L154.0,114.1 L157.0,114.9 L160.0,114.8 L163.0,114.5 L166.0,113.4 L169.0,112.6 L172.0,112.3 L175.0,112.7 L178.0,112.2 L181.0,111.9 L184.0,111.3 L187.0,111.0 L190.0,110.8 L193.0,110.8 L196.0,111.7 L199.0,111.9 L202.0,111.8 L205.0,110.9 L208.0,110.6 L211.0,110.4 L214.0,110.5 L217.0,109.9 L220.0,109.7 L221.0,110.2 L221,201 Z" fill="rgb(0,242,110)"/>
<path d="M43,201 L43.0,121.3 L46.0,121.5 L49.0,121.1 L52.0,120.8 L55.0,121.4 L58.0,121.3 L61.0,121.1 L64.0,120.3 L67.0,120.2 L70.0,120.4 L73.0,121.0 L76.0,119.9 L79.0,119.9 L82.0,119.7 L85.0,119.5 L88.0,120.0 L91.0,120.1 L94.0,119.5 L97.0,118.2 L100.0,117.5 L103.0,118.2 L106.0,118.5 L109.0,118.4 L112.0,117.9 L115.0,117.5 L118.0,117.6 L121.0,117.8 L124.0,117.9 L127.0,118.1 L130.0,117.8 L133.0,117.5 L136.0,117.2 L139.0,117.4 L142.0,117.2 L145.0,117.8 L148.0,118.2 L151.0,119.2 L154.0,118.5 L157.0,118.9 L160.0,118.6 L163.0,118.3 L166.0,117.3 L169.0,117.0 L172.0,117.1 L175.0,117.7 L178.0,117.0 L181.0,116.9 L184.0,116.5 L187.0,116.2 L190.0,115.9 L193.0,116.3 L196.0,116.5 L199.0,116.0 L202.0,115.8 L205.0,114.8 L208.0,114.3 L211.0,114.5 L214.0,115.3 L217.0,115.3 L220.0,115.1 L221.0,115.9 L221,201 Z" fill="rgb(0,243,144)"/>
<path d="M43,201 L43.0,124.7 L46.0,124.7 L49.0,124.3 L52.0,124.2 L55.0,125.0 L58.0,125.2 L61.0,124.8 L64.0,123.9 L67.0,124.2 L70.0,124.1 L73.0,124.3 L76.0,123.8 L79.0,123.8 L82.0,123.2 L85.0,123.3 L88.0,123.8 L91.0,123.5 L94.0,123.1 L97.0,121.9 L100.0,121.4 L103.0,122.5 L106.0,122.9 L109.0,122.6 L112.0,122.1 L115.0,121.5 L118.0,121.0 L121.0,121.2 L124.0,121.2 L127.0,121.2 L130.0,121.3 L133.0,121.4 L136.0,121.4 L139.0,121.7 L142.0,121.7 L145.0,122.0 L148.0,122.3 L151.0,122.6 L154.0,122.1 L157.0,122.1 L160.0,122.2 L163.0,121.9 L166.0,121.1 L169.0,120.7 L172.0,121.4 L175.0,121.6 L178.0,121.0 L181.0,121.4 L184.0,120.9 L187.0,120.4 L190.0,120.4 L193.0,120.8 L196.0,120.9 L199.0,120.8 L202.0,120.4 L205.0,119.5 L208.0,119.1 L211.0,119.6 L214.0,119.7 L217.0,120.0 L220.0,119.5 L221.0,119.9 L221,201 Z" fill="rgb(0,243,180)"/>
<path d="M43,201 L43.0,128.3 L46.0,128.6 L49.0,128.0 L52.0,127.9 L55.0,128.2 L58.0,128.5 L61.0,127.8 L64.0,127.4 L67.0,127.5 L70.0,128.0 L73.0,128.4 L76.0,127.3 L79.0,127.2 L82.0,126.9 L85.0,126.9 L88.0,127.6 L91.0,127.6 L94.0,127.0 L97.0,126.1 L100.0,125.6 L103.0,126.0 L106.0,126.2 L109.0,125.7 L112.0,124.9 L115.0,124.6 L118.0,124.7 L121.0,124.6 L124.0,125.2 L127.0,125.2 L130.0,125.2 L133.0,124.9 L136.0,125.4 L139.0,125.4 L142.0,125.4 L145.0,125.4 L148.0,125.8 L151.0,126.3 L154.0,125.7 L157.0,126.0 L160.0,126.3 L163.0,126.1 L166.0,125.6 L169.0,125.6 L172.0,126.0 L175.0,126.4 L178.0,126.2 L181.0,125.9 L184.0,125.3 L187.0,125.0 L190.0,124.6 L193.0,124.5 L196.0,125.1 L199.0,124.8 L202.0,124.3 L205.0,123.3 L208.0,123.2 L211.0,123.2 L214.0,123.8 L217.0,124.1 L220.0,124.2 L221.0,124.3 L221,201 Z" fill="rgb(0,242,220)"/>
<path d="M43,201 L43.0,132.5 L46.0,132.3 L49.0,132.2 L52.0,132.1 L55.0,132.3 L58.0,132.3 L61.0,131.9 L64.0,131.2 L67.0,131.1 L70.0,131.3 L73.0,132.0 L76.0,131.4 L79.0,131.4 L82.0,131.2 L85.0,131.6 L88.0,132.2 L91.0,131.9 L94.0,131.1 L97.0,130.1 L100.0,129.4 L103.0,130.2 L106.0,130.5 L109.0,130.4 L112.0,129.9 L115.0,129.4 L118.0,129.2 L121.0,129.1 L124.0,129.5 L127.0,129.4 L130.0,129.7 L133.0,129.6 L136.0,129.7 L139.0,129.7 L142.0,129.4 L145.0,129.5 L148.0,129.8 L151.0,130.8 L154.0,130.4 L157.0,130.6 L160.0,130.5 L163.0,130.6 L166.0,129.4 L169.0,129.2 L172.0,129.6 L175.0,130.2 L178.0,129.4 L181.0,129.4 L184.0,128.6 L187.0,128.8 L190.0,128.5 L193.0,128.7 L196.0,129.2 L199.0,129.0 L202.0,128.4 L205.0,127.3 L208.0,127.1 L211.0,127.5 L214.0,128.1 L217.0,128.0 L220.0,127.9 L221.0,128.2 L221,201 Z" fill="rgb(0,234,248)"/>
<path d="M43,201 L43.0,135.9 L46.0,135.9 L49.0,135.6 L52.0,135.5 L55.0,135.8 L58.0,136.2 L61.0,135.9 L64.0,135.5 L67.0,135.2 L70.0,135.4 L73.0,135.7 L76.0,135.1 L79.0,134.6 L82.0,134.9 L85.0,135.1 L88.0,135.9 L91.0,135.5 L94.0,135.3 L97.0,134.0 L100.0,133.5 L103.0,134.4 L106.0,135.0 L109.0,134.8 L112.0,134.5 L115.0,133.9 L118.0,133.5 L121.0,133.3 L124.0,133.7 L127.0,133.5 L130.0,133.4 L133.0,133.2 L136.0,133.2 L139.0,132.9 L142.0,132.5 L145.0,132.7 L148.0,133.0 L151.0,133.7 L154.0,133.4 L157.0,133.9 L160.0,134.1 L163.0,134.1 L166.0,133.6 L169.0,133.0 L172.0,133.4 L175.0,134.3 L178.0,133.7 L181.0,133.7 L184.0,133.7 L187.0,133.6 L190.0,133.3 L193.0,133.6 L196.0,133.9 L199.0,133.5 L202.0,133.0 L205.0,132.1 L208.0,131.6 L211.0,131.8 L214.0,132.3 L217.0,132.4 L220.0,132.0 L221.0,132.3 L221,201 Z" fill="rgb(0,216,255)"/>
<path d="M43,201 L43.0,139.5 L46.0,139.6 L49.0,139.1 L52.0,138.8 L55.0,139.5 L58.0,140.1 L61.0,139.7 L64.0,139.3 L67.0,139.6 L70.0,139.5 L73.0,139.9 L76.0,139.2 L79.0,139.3 L82.0,139.2 L85.0,139.5 L88.0,139.8 L91.0,140.0 L94.0,139.5 L97.0,138.5 L100.0,138.1 L103.0,139.0 L106.0,138.8 L109.0,138.5 L112.0,138.2 L115.0,137.6 L118.0,137.4 L121.0,137.3 L124.0,137.8 L127.0,137.3 L130.0,137.2 L133.0,136.8 L136.0,137.2 L139.0,137.2 L142.0,137.0 L145.0,137.1 L148.0,137.6 L151.0,138.2 L154.0,137.4 L157.0,137.9 L160.0,137.9 L163.0,137.8 L166.0,136.9 L169.0,136.7 L172.0,137.2 L175.0,137.8 L178.0,137.7 L181.0,137.8 L184.0,137.6 L187.0,137.3 L190.0,137.2 L193.0,136.9 L196.0,137.2 L199.0,136.9 L202.0,136.6 L205.0,135.8 L208.0,135.4 L211.0,135.8 L214.0,136.1 L217.0,136.2 L220.0,136.0 L221.0,136.4 L221,201 Z" fill="rgb(0,194,255)"/>
<path d="M43,201 L43.0,144.6 L46.0,144.4 L49.0,143.7 L52.0,143.7 L55.0,144.2 L58.0,144.7 L61.0,144.4 L64.0,144.1 L67.0,144.0 L70.0,144.1 L73.0,144.4 L76.0,143.5 L79.0,143.4 L82.0,143.4 L85.0,143.7 L88.0,144.1 L91.0,144.5 L94.0,144.2 L97.0,143.0 L100.0,142.2 L103.0,143.3 L106.0,143.5 L109.0,143.0 L112.0,142.6 L115.0,142.2 L118.0,141.8 L121.0,141.4 L124.0,141.4 L127.0,141.5 L130.0,141.5 L133.0,141.2 L136.0,141.3 L139.0,141.5 L142.0,141.0 L145.0,141.2 L148.0,141.5 L151.0,142.6 L154.0,141.8 L157.0,142.2 L160.0,142.3 L163.0,142.1 L166.0,141.3 L169.0,141.0 L172.0,141.1 L175.0,141.4 L178.0,140.7 L181.0,140.7 L184.0,140.4 L187.0,140.5 L190.0,140.2 L193.0,140.4 L196.0,141.0 L199.0,140.7 L202.0,140.1 L205.0,139.5 L208.0,139.4 L211.0,139.2 L214.0,139.6 L217.0,139.7 L220.0,139.2 L221.0,139.6 L221,201 Z" fill="rgb(0,171,255)"/>
<path d="M43,201 L43.0,148.7 L46.0,148.9 L49.0,148.3 L52.0,148.4 L55.0,148.5 L58.0,149.0 L61.0,148.3 L64.0,147.8 L67.0,147.8 L70.0,148.1 L73.0,148.8 L76.0,148.1 L79.0,147.8 L82.0,147.7 L85.0,148.1 L88.0,148.4 L91.0,148.4 L94.0,148.4 L97.0,147.2 L100.0,146.7 L103.0,147.2 L106.0,147.5 L109.0,146.8 L112.0,146.4 L115.0,146.1 L118.0,146.1 L121.0,145.9 L124.0,146.4 L127.0,146.3 L130.0,145.9 L133.0,145.1 L136.0,145.3 L139.0,145.2 L142.0,144.8 L145.0,145.2 L148.0,145.9 L151.0,146.7 L154.0,146.0 L157.0,146.2 L160.0,145.9 L163.0,145.7 L166.0,144.8 L169.0,144.7 L172.0,145.0 L175.0,146.0 L178.0,145.5 L181.0,145.8 L184.0,145.3 L187.0,145.2 L190.0,144.7 L193.0,144.4 L196.0,144.5 L199.0,144.2 L202.0,143.7 L205.0,142.7 L208.0,142.7 L211.0,143.0 L214.0,143.5 L217.0,143.6 L220.0,143.5 L221.0,143.6 L221,201 Z" fill="rgb(0,152,255)"/>
<path d="M43,201 L43.0,153.6 L46.0,153.4 L49.0,153.0 L52.0,152.5 L55.0,152.9 L58.0,153.2 L61.0,153.0 L64.0,152.1 L67.0,152.2 L70.0,152.3 L73.0,153.2 L76.0,152.1 L79.0,152.2 L82.0,151.9 L85.0,152.5 L88.0,152.9 L91.0,152.8 L94.0,152.5 L97.0,151.6 L100.0,151.0 L103.0,151.6 L106.0,152.3 L109.0,151.7 L112.0,151.1 L115.0,150.5 L118.0,150.7 L121.0,150.1 L124.0,150.4 L127.0,149.9 L130.0,149.6 L133.0,149.1 L136.0,149.4 L139.0,149.3 L142.0,149.0 L145.0,148.8 L148.0,148.9 L151.0,149.4 L154.0,148.4 L157.0,149.0 L160.0,149.6 L163.0,149.1 L166.0,148.5 L169.0,148.5 L172.0,148.6 L175.0,148.6 L178.0,148.2 L181.0,148.1 L184.0,147.7 L187.0,147.6 L190.0,147.5 L193.0,148.0 L196.0,148.6 L199.0,148.3 L202.0,148.0 L205.0,147.2 L208.0,146.5 L211.0,146.5 L214.0,147.3 L217.0,147.2 L220.0,146.9 L221.0,147.2 L221,201 Z" fill="rgb(0,137,255)"/>
<path d="M43,201 L43.0,158.4 L46.0,158.2 L49.0,157.9 L52.0,157.8 L55.0,158.0 L58.0,158.3 L61.0,157.8 L64.0,156.7 L67.0,156.3 L70.0,156.6 L73.0,157.3 L76.0,156.7 L79.0,156.9 L82.0,156.9 L85.0,157.0 L88.0,157.5 L91.0,157.1 L94.0,156.4 L97.0,155.1 L100.0,154.9 L103.0,155.6 L106.0,155.9 L109.0,155.7 L112.0,155.4 L115.0,154.8 L118.0,154.7 L121.0,154.4 L124.0,154.5 L127.0,153.9 L130.0,153.2 L133.0,152.5 L136.0,152.5 L139.0,152.6 L142.0,152.0 L145.0,152.6 L148.0,152.8 L151.0,153.2 L154.0,152.4 L157.0,152.9 L160.0,152.6 L163.0,152.6 L166.0,152.0 L169.0,151.8 L172.0,152.4 L175.0,152.9 L178.0,152.2 L181.0,151.7 L184.0,151.5 L187.0,151.5 L190.0,150.9 L193.0,150.9 L196.0,151.5 L199.0,150.9 L202.0,150.1 L205.0,149.6 L208.0,149.2 L211.0,149.2 L214.0,149.9 L217.0,150.0 L220.0,149.7 L221.0,150.2 L221,201 Z" fill="rgb(0,126,255)"/>
<path d="M43,201 L43.0,163.3 L46.0,163.8 L49.0,163.4 L52.0,163.0 L55.0,163.3 L58.0,163.2 L61.0,162.4 L64.0,161.7 L67.0,161.6 L70.0,162.0 L73.0,162.6 L76.0,161.5 L79.0,161.0 L82.0,160.8 L85.0,160.8 L88.0,161.4 L91.0,161.6 L94.0,161.4 L97.0,160.4 L100.0,159.7 L103.0,160.2 L106.0,160.4 L109.0,160.2 L112.0,159.7 L115.0,159.1 L118.0,158.7 L121.0,158.2 L124.0,157.9 L127.0,157.6 L130.0,157.4 L133.0,157.1 L136.0,157.1 L139.0,157.0 L142.0,156.7 L145.0,156.4 L148.0,156.5 L151.0,156.8 L154.0,155.9 L157.0,156.0 L160.0,156.3 L163.0,155.8 L166.0,155.1 L169.0,155.0 L172.0,155.7 L175.0,156.5 L178.0,156.1 L181.0,156.3 L184.0,155.5 L187.0,154.8 L190.0,154.1 L193.0,154.1 L196.0,154.1 L199.0,153.9 L202.0,153.1 L205.0,152.3 L208.0,152.2 L211.0,152.2 L214.0,152.7 L217.0,153.1 L220.0,152.4 L221.0,152.5 L221,201 Z" fill="rgb(0,118,255)"/>
<path d="M43,201 L43.0,169.6 L46.0,169.9 L49.0,169.9 L52.0,169.4 L55.0,169.9 L58.0,169.7 L61.0,168.9 L64.0,167.8 L67.0,167.6 L70.0,167.5 L73.0,168.3 L76.0,167.4 L79.0,167.3 L82.0,166.9 L85.0,167.1 L88.0,167.1 L91.0,167.2 L94.0,166.6 L97.0,165.5 L100.0,164.8 L103.0,165.4 L106.0,165.5 L109.0,165.1 L112.0,164.8 L115.0,164.0 L118.0,163.9 L121.0,163.3 L124.0,162.8 L127.0,162.3 L130.0,162.0 L133.0,161.3 L136.0,161.0 L139.0,161.0 L142.0,160.1 L145.0,160.0 L148.0,160.2 L151.0,160.7 L154.0,159.7 L157.0,160.1 L160.0,160.3 L163.0,160.1 L166.0,159.1 L169.0,158.7 L172.0,159.2 L175.0,159.6 L178.0,159.1 L181.0,159.2 L184.0,158.7 L187.0,158.3 L190.0,157.5 L193.0,157.1 L196.0,157.0 L199.0,156.4 L202.0,155.6 L205.0,154.8 L208.0,154.2 L211.0,154.6 L214.0,155.0 L217.0,154.8 L220.0,154.5 L221.0,155.1 L221,201 Z" fill="rgb(0,110,255)"/>
<path d="M43,201 L43.0,173.9 L46.0,174.1 L49.0,173.5 L52.0,173.4 L55.0,173.4 L58.0,173.1 L61.0,172.3 L64.0,171.4 L67.0,171.1 L70.0,171.5 L73.0,172.3 L76.0,171.2 L79.0,171.2 L82.0,170.7 L85.0,170.8 L88.0,170.8 L91.0,171.2 L94.0,170.7 L97.0,169.5 L100.0,168.7 L103.0,169.4 L106.0,169.8 L109.0,169.1 L112.0,168.7 L115.0,168.1 L118.0,167.5 L121.0,166.7 L124.0,166.8 L127.0,166.1 L130.0,165.7 L133.0,165.0 L136.0,164.8 L139.0,164.3 L142.0,164.0 L145.0,163.8 L148.0,164.3 L151.0,164.6 L154.0,164.0 L157.0,164.0 L160.0,164.1 L163.0,163.7 L166.0,162.7 L169.0,162.6 L172.0,162.8 L175.0,163.4 L178.0,163.2 L181.0,163.1 L184.0,162.2 L187.0,162.1 L190.0,161.3 L193.0,161.0 L196.0,161.3 L199.0,160.7 L202.0,160.2 L205.0,159.3 L208.0,158.6 L211.0,158.5 L214.0,159.1 L217.0,159.0 L220.0,158.7 L221.0,158.9 L221,201 Z" fill="rgb(0,102,255)"/>
<path d="M43,201 L43.0,175.6 L46.0,175.5 L49.0,175.2 L52.0,174.5 L55.0,174.9 L58.0,175.0 L61.0,175.1 L64.0,174.5 L67.0,174.4 L70.0,174.1 L73.0,175.0 L76.0,173.5 L79.0,173.0 L82.0,172.8 L85.0,172.8 L88.0,172.7 L91.0,172.9 L94.0,172.9 L97.0,172.0 L100.0,171.5 L103.0,172.3 L106.0,172.5 L109.0,172.2 L112.0,171.3 L115.0,171.1 L118.0,170.9 L121.0,170.8 L124.0,170.9 L127.0,170.9 L130.0,170.1 L133.0,169.4 L136.0,169.2 L139.0,168.6 L142.0,167.7 L145.0,167.9 L148.0,168.4 L151.0,168.9 L154.0,168.2 L157.0,168.5 L160.0,168.5 L163.0,168.0 L166.0,167.4 L169.0,167.4 L172.0,167.8 L175.0,168.5 L178.0,168.6 L181.0,168.4 L184.0,167.9 L187.0,167.5 L190.0,167.1 L193.0,166.9 L196.0,166.9 L199.0,166.2 L202.0,166.1 L205.0,164.8 L208.0,164.2 L211.0,164.7 L214.0,165.3 L217.0,165.2 L220.0,165.0 L221.0,165.4 L221,201 Z" fill="rgb(0,92,254)"/>
<path d="M43,201 L43.0,177.6 L46.0,177.6 L49.0,177.3 L52.0,176.7 L55.0,177.2 L58.0,177.6 L61.0,177.5 L64.0,176.8 L67.0,177.2 L70.0,177.4 L73.0,178.2 L76.0,177.0 L79.0,177.0 L82.0,176.7 L85.0,176.8 L88.0,176.9 L91.0,177.2 L94.0,176.6 L97.0,175.2 L100.0,174.3 L103.0,174.9 L106.0,175.4 L109.0,175.1 L112.0,174.9 L115.0,174.6 L118.0,174.8 L121.0,174.6 L124.0,174.7 L127.0,174.3 L130.0,173.8 L133.0,172.9 L136.0,172.4 L139.0,172.5 L142.0,171.9 L145.0,172.4 L148.0,172.4 L151.0,173.2 L154.0,172.5 L157.0,172.9 L160.0,173.1 L163.0,173.4 L166.0,172.8 L169.0,172.7 L172.0,173.2 L175.0,173.6 L178.0,173.2 L181.0,172.9 L184.0,172.6 L187.0,172.4 L190.0,172.1 L193.0,172.1 L196.0,172.3 L199.0,172.0 L202.0,171.3 L205.0,170.4 L208.0,169.9 L211.0,170.2 L214.0,170.5 L217.0,170.7 L220.0,170.6 L221.0,170.6 L221,201 Z" fill="rgb(0,82,253)"/>
<path d="M43,201 L43.0,181.4 L46.0,181.2 L49.0,180.5 L52.0,180.3 L55.0,180.7 L58.0,181.0 L61.0,180.7 L64.0,180.5 L67.0,180.1 L70.0,180.2 L73.0,180.9 L76.0,180.0 L79.0,180.0 L82.0,179.9 L85.0,180.0 L88.0,180.4 L91.0,180.4 L94.0,180.1 L97.0,179.2 L100.0,178.5 L103.0,179.0 L106.0,179.3 L109.0,179.0 L112.0,178.8 L115.0,178.8 L118.0,178.9 L121.0,178.8 L124.0,178.8 L127.0,178.5 L130.0,178.1 L133.0,177.5 L136.0,177.4 L139.0,177.3 L142.0,177.0 L145.0,177.1 L148.0,177.2 L151.0,177.9 L154.0,177.0 L157.0,177.1 L160.0,177.0 L163.0,176.8 L166.0,175.9 L169.0,175.9 L172.0,176.7 L175.0,177.2 L178.0,177.3 L181.0,177.6 L184.0,177.2 L187.0,176.6 L190.0,176.2 L193.0,176.2 L196.0,176.3 L199.0,175.7 L202.0,175.7 L205.0,174.8 L208.0,174.2 L211.0,174.7 L214.0,175.1 L217.0,175.1 L220.0,175.4 L221.0,175.9 L221,201 Z" fill="rgb(0,72,252)"/>
<path d="M43,201 L43.0,184.5 L46.0,184.7 L49.0,184.0 L52.0,184.0 L55.0,184.3 L58.0,184.3 L61.0,183.9 L64.0,183.6 L67.0,183.3 L70.0,183.8 L73.0,184.7 L76.0,183.8 L79.0,183.4 L82.0,183.1 L85.0,183.1 L88.0,183.0 L91.0,182.8 L94.0,182.9 L97.0,182.0 L100.0,181.5 L103.0,182.4 L106.0,183.2 L109.0,182.9 L112.0,182.8 L115.0,182.5 L118.0,182.3 L121.0,182.2 L124.0,182.1 L127.0,181.9 L130.0,181.7 L133.0,181.5 L136.0,181.5 L139.0,181.8 L142.0,181.3 L145.0,181.6 L148.0,181.6 L151.0,181.9 L154.0,181.1 L157.0,181.5 L160.0,181.5 L163.0,181.7 L166.0,180.9 L169.0,180.9 L172.0,181.4 L175.0,181.8 L178.0,181.4 L181.0,181.5 L184.0,181.1 L187.0,181.0 L190.0,180.6 L193.0,180.7 L196.0,181.3 L199.0,181.0 L202.0,180.5 L205.0,179.6 L208.0,179.0 L211.0,179.2 L214.0,179.4 L217.0,179.3 L220.0,179.5 L221.0,179.8 L221,201 Z" fill="rgb(0,59,250)"/>
<path d="M43,201 L43.0,188.0 L46.0,188.3 L49.0,187.5 L52.0,187.1 L55.0,187.2 L58.0,187.5 L61.0,186.9 L64.0,186.3 L67.0,186.3 L70.0,186.9 L73.0,187.8 L76.0,187.1 L79.0,187.1 L82.0,186.8 L85.0,186.9 L88.0,187.2 L91.0,187.3 L94.0,187.2 L97.0,186.3 L100.0,185.5 L103.0,186.7 L106.0,187.1 L109.0,186.8 L112.0,186.2 L115.0,185.7 L118.0,185.7 L121.0,185.5 L124.0,185.9 L127.0,186.0 L130.0,186.1 L133.0,185.3 L136.0,185.4 L139.0,185.3 L142.0,185.1 L145.0,185.3 L148.0,185.6 L151.0,186.3 L154.0,185.8 L157.0,186.2 L160.0,186.1 L163.0,186.4 L166.0,185.4 L169.0,185.1 L172.0,185.8 L175.0,186.7 L178.0,186.3 L181.0,186.4 L184.0,185.9 L187.0,185.4 L190.0,185.0 L193.0,185.2 L196.0,185.6 L199.0,185.5 L202.0,185.3 L205.0,184.2 L208.0,183.5 L211.0,183.8 L214.0,184.5 L217.0,184.3 L220.0,184.3 L221.0,185.0 L221,201 Z" fill="rgb(0,45,247)"/>
<path d="M43,201 L43.0,191.2 L46.0,191.1 L49.0,190.6 L52.0,190.6 L55.0,190.8 L58.0,191.6 L61.0,191.4 L64.0,190.7 L67.0,190.7 L70.0,191.2 L73.0,191.9 L76.0,191.1 L79.0,191.0 L82.0,190.6 L85.0,190.6 L88.0,190.6 L91.0,190.5 L94.0,190.6 L97.0,189.7 L100.0,189.4 L103.0,190.4 L106.0,190.6 L109.0,190.0 L112.0,189.6 L115.0,189.0 L118.0,189.0 L121.0,189.3 L124.0,189.8 L127.0,189.9 L130.0,189.6 L133.0,189.2 L136.0,189.3 L139.0,189.1 L142.0,188.7 L145.0,189.1 L148.0,189.5 L151.0,190.2 L154.0,189.8 L157.0,190.4 L160.0,190.5 L163.0,190.5 L166.0,189.4 L169.0,189.1 L172.0,189.9 L175.0,190.5 L178.0,190.0 L181.0,190.3 L184.0,189.9 L187.0,189.2 L190.0,189.1 L193.0,189.4 L196.0,189.7 L199.0,189.4 L202.0,189.1 L205.0,188.2 L208.0,187.7 L211.0,188.2 L214.0,188.9 L217.0,188.7 L220.0,188.3 L221.0,188.5 L221,201 Z" fill="rgb(0,32,244)"/>
<path d="M43,201 L43.0,195.3 L46.0,195.4 L49.0,195.1 L52.0,194.5 L55.0,194.5 L58.0,194.5 L61.0,194.2 L64.0,193.7 L67.0,194.0 L70.0,194.5 L73.0,195.4 L76.0,194.6 L79.0,194.6 L82.0,194.7 L85.0,194.7 L88.0,195.2 L91.0,195.4 L94.0,194.8 L97.0,193.6 L100.0,193.1 L103.0,194.1 L106.0,194.4 L109.0,194.3 L112.0,194.0 L115.0,193.7 L118.0,193.8 L121.0,194.0 L124.0,194.3 L127.0,193.9 L130.0,193.9 L133.0,193.4 L136.0,193.1 L139.0,193.3 L142.0,193.2 L145.0,193.3 L148.0,193.2 L151.0,194.0 L154.0,193.4 L157.0,194.0 L160.0,194.2 L163.0,194.3 L166.0,193.3 L169.0,192.9 L172.0,193.2 L175.0,193.7 L178.0,193.2 L181.0,193.5 L184.0,193.2 L187.0,193.1 L190.0,192.8 L193.0,193.1 L196.0,193.4 L199.0,193.4 L202.0,193.2 L205.0,192.4 L208.0,192.3 L211.0,192.8 L214.0,193.5 L217.0,193.3 L220.0,193.4 L221.0,193.4 L221,201 Z" fill="rgb(0,20,240)"/>
<defs><radialGradient id="ga_b0"><stop offset="0" stop-color="#ff0000" stop-opacity="0.50"/><stop offset="0.6" stop-color="#ff0000" stop-opacity="0.30"/><stop offset="1" stop-color="#ff0000" stop-opacity="0"/></radialGradient></defs>
<ellipse cx="185.0" cy="53.0" rx="70.0" ry="16.0" fill="url(#ga_b0)"/>
<defs><radialGradient id="ga_b1"><stop offset="0" stop-color="#ffff00" stop-opacity="0.35"/><stop offset="0.6" stop-color="#ffff00" stop-opacity="0.21"/><stop offset="1" stop-color="#ffff00" stop-opacity="0"/></radialGradient></defs>
<ellipse cx="70.0" cy="10.0" rx="40.0" ry="10.0" fill="url(#ga_b1)"/>
</svg>
<path d="M43.0,36.9 L47.5,35.5 L52.0,34.6 L56.5,34.5 L61.0,36.0 L65.5,37.6 L70.0,38.2 L74.5,36.2 L79.0,36.5 L83.5,35.0 L88.0,34.5 L92.5,33.7 L97.0,33.1 L101.5,33.1 L106.0,32.6 L110.5,32.3 L115.0,31.3 L119.5,29.8 L124.0,30.6 L128.5,31.5 L133.0,30.5 L137.5,30.3 L142.0,30.0 L146.5,30.7 L151.0,29.3 L155.5,29.7 L160.0,29.1 L164.5,29.3 L169.0,28.6 L173.5,27.9 L178.0,28.5 L182.5,24.7 L187.0,23.2 L191.5,23.3 L196.0,23.0 L200.5,24.2 L205.0,26.1 L209.5,26.1 L214.0,25.3 L218.5,24.3" fill="none" stroke="#222" stroke-width="0.7" stroke-dasharray="1,1.4" opacity="0.75"/>
<path d="M43.0,71.6 L47.5,73.1 L52.0,73.3 L56.5,72.9 L61.0,72.2 L65.5,71.5 L70.0,72.0 L74.5,71.3 L79.0,72.3 L83.5,71.6 L88.0,71.8 L92.5,71.0 L97.0,70.2 L101.5,70.0 L106.0,70.6 L110.5,69.9 L115.0,69.3 L119.5,69.7 L124.0,68.9 L128.5,69.6 L133.0,71.6 L137.5,74.1 L142.0,74.8 L146.5,74.8 L151.0,72.8 L155.5,73.0 L160.0,72.7 L164.5,73.7 L169.0,73.7 L173.5,74.0 L178.0,74.1 L182.5,74.0 L187.0,73.0 L191.5,72.6 L196.0,72.8 L200.5,72.5 L205.0,71.9 L209.5,72.1 L214.0,72.0 L218.5,72.5" fill="none" stroke="#222" stroke-width="0.7" stroke-dasharray="1,1.4" opacity="0.75"/>
<path d="M43.0,117.8 L47.5,118.5 L52.0,118.2 L56.5,118.3 L61.0,117.6 L65.5,117.6 L70.0,116.6 L74.5,117.6 L79.0,116.5 L83.5,117.3 L88.0,114.9 L92.5,114.1 L97.0,114.6 L101.5,114.1 L106.0,114.4 L110.5,113.7 L115.0,113.4 L119.5,113.6 L124.0,113.8 L128.5,114.2 L133.0,114.4 L137.5,113.9 L142.0,114.8 L146.5,114.4 L151.0,114.0 L155.5,114.3 L160.0,114.3 L164.5,114.2 L169.0,113.1 L173.5,114.0 L178.0,112.3 L182.5,110.4 L187.0,110.7 L191.5,111.4 L196.0,110.3 L200.5,110.6 L205.0,111.0 L209.5,110.2 L214.0,111.0 L218.5,110.8" fill="none" stroke="#222" stroke-width="0.7" stroke-dasharray="1,1.4" opacity="0.75"/>
<path d="M43.0,173.6 L47.5,174.2 L52.0,173.0 L56.5,173.0 L61.0,173.6 L65.5,173.2 L70.0,172.4 L74.5,172.0 L79.0,172.1 L83.5,170.5 L88.0,169.8 L92.5,169.8 L97.0,169.0 L101.5,169.6 L106.0,168.9 L110.5,168.7 L115.0,169.1 L119.5,169.5 L124.0,168.8 L128.5,167.6 L133.0,164.4 L137.5,163.3 L142.0,162.9 L146.5,162.6 L151.0,162.1 L155.5,162.6 L160.0,162.1 L164.5,162.3 L169.0,161.8 L173.5,161.7 L178.0,161.5 L182.5,161.2 L187.0,161.4 L191.5,160.6 L196.0,158.5 L200.5,157.8 L205.0,157.6 L209.5,157.1 L214.0,157.2 L218.5,157.4" fill="none" stroke="#222" stroke-width="0.7" stroke-dasharray="1,1.4" opacity="0.75"/>
<path d="M86.2,31.1 l-1.6,-5.2 l0.9,0 l0,-3.4 l1.4,0 l0,3.4 l0.9,0 z" fill="#111"/>
<path d="M180.1,21.1 l-1.6,-5.2 l0.9,0 l0,-3.4 l1.4,0 l0,3.4 l0.9,0 z" fill="#111"/>
<path d="M131.3,77.0 l-1.6,5.2 l0.9,0 l0,3.4 l1.4,0 l0,-3.4 l0.9,0 z" fill="#111"/>
<path d="M86.4,113.5 l-1.6,-5.2 l0.9,0 l0,-3.4 l1.4,0 l0,3.4 l0.9,0 z" fill="#111"/>
<path d="M178.0,109.6 l-1.6,-5.2 l0.9,0 l0,-3.4 l1.4,0 l0,3.4 l0.9,0 z" fill="#111"/>
<path d="M131.8,117.5 l-1.6,5.2 l0.9,0 l0,3.4 l1.4,0 l0,-3.4 l0.9,0 z" fill="#111"/>
<svg x="43" y="262" width="178" height="195" viewBox="43 262 178 195" overflow="hidden">
<rect x="43" y="262" width="178" height="195" fill="rgb(255,160,0)"/>
<path d="M43,459 L43.0,269.7 L46.0,269.3 L49.0,269.1 L52.0,270.3 L55.0,270.7 L58.0,270.4 L61.0,269.9 L64.0,269.7 L67.0,269.4 L70.0,268.5 L73.0,268.1 L76.0,267.6 L79.0,267.9 L82.0,268.0 L85.0,268.1 L88.0,267.8 L91.0,267.0 L94.0,266.0 L97.0,265.0 L100.0,264.5 L103.0,264.0 L106.0,264.1 L109.0,264.0 L112.0,264.5 L115.0,264.7 L118.0,264.9 L121.0,264.2 L124.0,264.1 L127.0,263.7 L130.0,263.1 L133.0,263.5 L136.0,263.5 L139.0,263.5 L142.0,263.1 L145.0,263.0 L148.0,262.5 L151.0,262.2 L154.0,261.6 L157.0,262.2 L160.0,262.6 L163.0,262.4 L166.0,262.8 L169.0,262.3 L172.0,262.1 L175.0,262.2 L178.0,262.0 L181.0,263.0 L184.0,263.0 L187.0,262.4 L190.0,263.4 L193.0,263.3 L196.0,263.6 L199.0,263.1 L202.0,263.6 L205.0,263.2 L208.0,262.8 L211.0,262.3 L214.0,261.9 L217.0,261.7 L220.0,261.2 L221.0,260.7 L221,459 Z" fill="rgb(255,146,0)"/>
<path d="M43,459 L43.0,275.3 L46.0,274.3 L49.0,274.3 L52.0,274.7 L55.0,274.9 L58.0,274.5 L61.0,274.5 L64.0,273.8 L67.0,273.8 L70.0,273.2 L73.0,273.0 L76.0,272.1 L79.0,272.6 L82.0,272.4 L85.0,272.7 L88.0,272.0 L91.0,270.9 L94.0,269.6 L97.0,268.8 L100.0,267.5 L103.0,267.1 L106.0,267.3 L109.0,267.4 L112.0,268.1 L115.0,268.4 L118.0,269.1 L121.0,269.0 L124.0,269.0 L127.0,268.4 L130.0,268.0 L133.0,267.5 L136.0,267.3 L139.0,267.1 L142.0,267.1 L145.0,267.1 L148.0,266.9 L151.0,266.2 L154.0,265.9 L157.0,265.6 L160.0,265.9 L163.0,265.5 L166.0,266.1 L169.0,265.6 L172.0,265.6 L175.0,265.7 L178.0,265.7 L181.0,266.5 L184.0,266.1 L187.0,266.1 L190.0,266.9 L193.0,266.8 L196.0,267.8 L199.0,267.3 L202.0,267.7 L205.0,267.7 L208.0,267.4 L211.0,266.6 L214.0,266.5 L217.0,266.1 L220.0,265.0 L221.0,264.0 L221,459 Z" fill="rgb(255,132,0)"/>
<path d="M43,459 L43.0,279.4 L46.0,278.9 L49.0,279.3 L52.0,280.3 L55.0,280.6 L58.0,280.5 L61.0,280.1 L64.0,279.1 L67.0,278.9 L70.0,278.0 L73.0,277.3 L76.0,277.1 L79.0,277.4 L82.0,276.9 L85.0,277.2 L88.0,276.5 L91.0,275.2 L94.0,273.8 L97.0,273.3 L100.0,272.1 L103.0,271.7 L106.0,271.8 L109.0,272.5 L112.0,272.6 L115.0,273.1 L118.0,273.2 L121.0,272.8 L124.0,272.0 L127.0,271.8 L130.0,271.4 L133.0,271.3 L136.0,271.0 L139.0,270.7 L142.0,270.3 L145.0,270.1 L148.0,270.0 L151.0,269.6 L154.0,269.6 L157.0,269.7 L160.0,270.5 L163.0,270.0 L166.0,270.8 L169.0,269.9 L172.0,270.0 L175.0,269.9 L178.0,270.2 L181.0,270.7 L184.0,270.6 L187.0,270.6 L190.0,271.5 L193.0,271.3 L196.0,272.5 L199.0,272.2 L202.0,272.3 L205.0,271.5 L208.0,270.8 L211.0,269.6 L214.0,269.0 L217.0,269.0 L220.0,268.6 L221.0,267.8 L221,459 Z" fill="rgb(255,117,0)"/>
<path d="M43,459 L43.0,283.1 L46.0,282.2 L49.0,282.2 L52.0,282.8 L55.0,283.3 L58.0,283.2 L61.0,283.0 L64.0,282.6 L67.0,282.6 L70.0,281.4 L73.0,281.0 L76.0,280.5 L79.0,280.8 L82.0,280.8 L85.0,280.9 L88.0,280.1 L91.0,279.2 L94.0,278.3 L97.0,277.3 L100.0,276.5 L103.0,276.4 L106.0,276.1 L109.0,276.5 L112.0,277.1 L115.0,277.3 L118.0,277.3 L121.0,277.2 L124.0,276.7 L127.0,276.4 L130.0,275.7 L133.0,275.6 L136.0,275.0 L139.0,274.9 L142.0,274.7 L145.0,274.6 L148.0,274.4 L151.0,273.9 L154.0,273.5 L157.0,273.6 L160.0,274.8 L163.0,274.3 L166.0,275.2 L169.0,274.8 L172.0,274.5 L175.0,274.4 L178.0,274.6 L181.0,275.5 L184.0,275.3 L187.0,275.1 L190.0,275.7 L193.0,275.4 L196.0,276.1 L199.0,275.7 L202.0,276.1 L205.0,275.5 L208.0,275.0 L211.0,274.3 L214.0,273.9 L217.0,273.7 L220.0,273.5 L221.0,272.4 L221,459 Z" fill="rgb(255,102,0)"/>
<path d="M43,459 L43.0,286.3 L46.0,285.1 L49.0,285.2 L52.0,285.9 L55.0,286.1 L58.0,285.5 L61.0,285.5 L64.0,284.8 L67.0,284.8 L70.0,284.0 L73.0,283.7 L76.0,283.2 L79.0,283.5 L82.0,283.4 L85.0,283.9 L88.0,283.1 L91.0,282.5 L94.0,281.4 L97.0,280.4 L100.0,279.6 L103.0,279.8 L106.0,279.8 L109.0,280.5 L112.0,281.1 L115.0,281.4 L118.0,281.2 L121.0,280.5 L124.0,279.9 L127.0,279.3 L130.0,278.6 L133.0,278.9 L136.0,279.0 L139.0,279.2 L142.0,279.4 L145.0,279.4 L148.0,279.2 L151.0,279.1 L154.0,279.0 L157.0,278.7 L160.0,279.2 L163.0,278.5 L166.0,279.0 L169.0,278.2 L172.0,278.0 L175.0,278.2 L178.0,278.6 L181.0,279.2 L184.0,279.2 L187.0,279.2 L190.0,279.7 L193.0,279.6 L196.0,280.2 L199.0,279.7 L202.0,280.1 L205.0,279.9 L208.0,279.6 L211.0,278.8 L214.0,278.7 L217.0,278.5 L220.0,278.0 L221.0,277.2 L221,459 Z" fill="rgb(255,87,0)"/>
<path d="M43,459 L43.0,288.2 L46.0,287.3 L49.0,287.4 L52.0,288.0 L55.0,288.9 L58.0,288.4 L61.0,288.1 L64.0,287.6 L67.0,287.5 L70.0,286.5 L73.0,286.2 L76.0,286.2 L79.0,286.4 L82.0,286.8 L85.0,287.2 L88.0,286.8 L91.0,285.7 L94.0,284.8 L97.0,283.9 L100.0,283.1 L103.0,283.1 L106.0,283.3 L109.0,284.0 L112.0,284.7 L115.0,285.0 L118.0,285.2 L121.0,285.0 L124.0,284.2 L127.0,283.5 L130.0,283.1 L133.0,283.0 L136.0,283.2 L139.0,283.4 L142.0,283.3 L145.0,283.4 L148.0,283.3 L151.0,283.3 L154.0,283.2 L157.0,283.3 L160.0,283.8 L163.0,283.3 L166.0,284.0 L169.0,283.8 L172.0,283.7 L175.0,283.6 L178.0,283.9 L181.0,284.4 L184.0,284.1 L187.0,284.1 L190.0,284.8 L193.0,284.6 L196.0,285.3 L199.0,284.5 L202.0,284.7 L205.0,284.4 L208.0,284.0 L211.0,283.2 L214.0,282.9 L217.0,283.1 L220.0,282.5 L221.0,281.8 L221,459 Z" fill="rgb(255,74,0)"/>
<path d="M43,459 L43.0,291.0 L46.0,290.0 L49.0,289.9 L52.0,290.5 L55.0,291.5 L58.0,291.3 L61.0,291.1 L64.0,291.0 L67.0,290.8 L70.0,290.2 L73.0,289.8 L76.0,289.4 L79.0,289.8 L82.0,290.1 L85.0,290.2 L88.0,290.2 L91.0,289.3 L94.0,288.3 L97.0,287.7 L100.0,287.0 L103.0,286.8 L106.0,287.1 L109.0,287.5 L112.0,287.9 L115.0,288.1 L118.0,288.3 L121.0,287.8 L124.0,287.3 L127.0,287.3 L130.0,287.0 L133.0,287.0 L136.0,287.6 L139.0,288.0 L142.0,287.7 L145.0,287.6 L148.0,287.8 L151.0,287.8 L154.0,287.6 L157.0,287.7 L160.0,288.3 L163.0,287.7 L166.0,288.3 L169.0,288.1 L172.0,287.8 L175.0,287.7 L178.0,287.6 L181.0,288.0 L184.0,287.9 L187.0,287.8 L190.0,288.3 L193.0,288.5 L196.0,289.2 L199.0,288.7 L202.0,289.0 L205.0,288.8 L208.0,288.5 L211.0,287.5 L214.0,287.0 L217.0,287.4 L220.0,286.9 L221.0,286.4 L221,459 Z" fill="rgb(255,63,0)"/>
<path d="M43,459 L43.0,294.6 L46.0,293.4 L49.0,292.8 L52.0,293.6 L55.0,294.0 L58.0,293.1 L61.0,293.2 L64.0,293.1 L67.0,293.6 L70.0,293.3 L73.0,293.1 L76.0,293.0 L79.0,293.5 L82.0,293.6 L85.0,294.0 L88.0,293.8 L91.0,292.9 L94.0,292.1 L97.0,291.3 L100.0,291.0 L103.0,291.4 L106.0,291.6 L109.0,292.3 L112.0,293.1 L115.0,292.8 L118.0,292.8 L121.0,292.0 L124.0,291.2 L127.0,290.5 L130.0,290.4 L133.0,290.4 L136.0,290.9 L139.0,291.5 L142.0,291.5 L145.0,291.7 L148.0,292.2 L151.0,292.6 L154.0,292.6 L157.0,292.7 L160.0,292.7 L163.0,291.7 L166.0,292.2 L169.0,292.1 L172.0,291.6 L175.0,291.6 L178.0,291.6 L181.0,291.8 L184.0,291.5 L187.0,291.4 L190.0,292.1 L193.0,292.3 L196.0,292.9 L199.0,292.4 L202.0,292.6 L205.0,292.6 L208.0,292.7 L211.0,292.1 L214.0,292.2 L217.0,292.5 L220.0,292.2 L221.0,290.9 L221,459 Z" fill="rgb(255,58,0)"/>
<path d="M43,459 L43.0,297.7 L46.0,296.9 L49.0,297.0 L52.0,297.8 L55.0,298.3 L58.0,297.4 L61.0,297.2 L64.0,297.1 L67.0,297.4 L70.0,297.0 L73.0,296.8 L76.0,296.3 L79.0,296.4 L82.0,296.8 L85.0,297.3 L88.0,297.1 L91.0,296.9 L94.0,296.7 L97.0,296.3 L100.0,295.8 L103.0,295.9 L106.0,295.8 L109.0,296.0 L112.0,296.3 L115.0,296.4 L118.0,296.8 L121.0,296.4 L124.0,295.7 L127.0,295.3 L130.0,295.4 L133.0,295.5 L136.0,296.1 L139.0,296.4 L142.0,296.2 L145.0,295.9 L148.0,296.2 L151.0,296.2 L154.0,296.2 L157.0,296.2 L160.0,296.5 L163.0,295.7 L166.0,296.5 L169.0,296.4 L172.0,296.4 L175.0,296.4 L178.0,296.4 L181.0,296.5 L184.0,296.4 L187.0,296.0 L190.0,296.4 L193.0,296.0 L196.0,296.3 L199.0,295.8 L202.0,296.0 L205.0,296.1 L208.0,296.3 L211.0,296.0 L214.0,295.8 L217.0,296.2 L220.0,296.2 L221.0,295.3 L221,459 Z" fill="rgb(255,59,0)"/>
<path d="M43,459 L43.0,301.8 L46.0,300.6 L49.0,300.5 L52.0,300.8 L55.0,300.8 L58.0,300.5 L61.0,300.3 L64.0,299.9 L67.0,300.2 L70.0,299.9 L73.0,299.7 L76.0,299.6 L79.0,300.2 L82.0,300.8 L85.0,301.6 L88.0,301.1 L91.0,300.7 L94.0,299.8 L97.0,299.2 L100.0,298.6 L103.0,298.9 L106.0,298.9 L109.0,299.5 L112.0,300.3 L115.0,300.5 L118.0,300.7 L121.0,300.4 L124.0,300.1 L127.0,299.5 L130.0,299.2 L133.0,299.8 L136.0,300.5 L139.0,300.6 L142.0,300.6 L145.0,300.8 L148.0,300.7 L151.0,300.9 L154.0,301.0 L157.0,300.8 L160.0,300.6 L163.0,299.8 L166.0,300.1 L169.0,299.9 L172.0,300.0 L175.0,300.0 L178.0,300.0 L181.0,300.5 L184.0,300.4 L187.0,300.1 L190.0,300.6 L193.0,300.4 L196.0,300.4 L199.0,299.9 L202.0,300.5 L205.0,300.4 L208.0,300.9 L211.0,300.8 L214.0,300.6 L217.0,300.7 L220.0,300.7 L221.0,299.8 L221,459 Z" fill="rgb(255,60,0)"/>
<path d="M43,459 L43.0,305.1 L46.0,304.4 L49.0,304.3 L52.0,304.6 L55.0,304.6 L58.0,303.9 L61.0,303.4 L64.0,302.9 L67.0,303.3 L70.0,303.2 L73.0,303.1 L76.0,303.3 L79.0,304.3 L82.0,304.8 L85.0,305.4 L88.0,305.0 L91.0,304.5 L94.0,303.6 L97.0,303.2 L100.0,302.6 L103.0,303.1 L106.0,303.2 L109.0,303.9 L112.0,304.4 L115.0,304.5 L118.0,304.8 L121.0,304.2 L124.0,303.3 L127.0,303.3 L130.0,303.2 L133.0,303.7 L136.0,304.3 L139.0,305.2 L142.0,305.0 L145.0,305.0 L148.0,305.1 L151.0,305.2 L154.0,304.9 L157.0,304.9 L160.0,304.8 L163.0,304.1 L166.0,304.9 L169.0,305.2 L172.0,305.1 L175.0,305.0 L178.0,304.7 L181.0,304.8 L184.0,304.4 L187.0,304.0 L190.0,304.8 L193.0,304.6 L196.0,304.6 L199.0,304.1 L202.0,304.8 L205.0,304.9 L208.0,305.4 L211.0,305.3 L214.0,305.5 L217.0,305.2 L220.0,304.8 L221.0,304.1 L221,459 Z" fill="rgb(255,75,0)"/>
<path d="M43,459 L43.0,309.0 L46.0,307.5 L49.0,307.1 L52.0,307.1 L55.0,307.4 L58.0,306.6 L61.0,306.6 L64.0,306.5 L67.0,307.1 L70.0,306.8 L73.0,306.8 L76.0,306.7 L79.0,307.5 L82.0,308.3 L85.0,308.9 L88.0,308.8 L91.0,308.3 L94.0,307.7 L97.0,307.3 L100.0,307.2 L103.0,307.4 L106.0,307.7 L109.0,308.1 L112.0,308.4 L115.0,308.7 L118.0,308.9 L121.0,308.1 L124.0,307.7 L127.0,307.0 L130.0,306.7 L133.0,306.8 L136.0,307.8 L139.0,308.6 L142.0,308.7 L145.0,308.7 L148.0,308.9 L151.0,309.2 L154.0,308.9 L157.0,308.8 L160.0,308.8 L163.0,308.3 L166.0,308.7 L169.0,309.0 L172.0,309.2 L175.0,309.3 L178.0,309.0 L181.0,309.0 L184.0,308.6 L187.0,308.5 L190.0,308.9 L193.0,309.2 L196.0,309.7 L199.0,308.8 L202.0,309.1 L205.0,309.1 L208.0,309.5 L211.0,309.2 L214.0,309.5 L217.0,309.7 L220.0,309.6 L221.0,308.8 L221,459 Z" fill="rgb(255,90,0)"/>
<path d="M43,459 L43.0,312.6 L46.0,311.3 L49.0,310.8 L52.0,311.5 L55.0,311.6 L58.0,310.6 L61.0,310.3 L64.0,310.1 L67.0,310.5 L70.0,310.7 L73.0,310.6 L76.0,310.6 L79.0,311.5 L82.0,312.2 L85.0,312.6 L88.0,312.8 L91.0,312.3 L94.0,311.5 L97.0,311.1 L100.0,310.9 L103.0,311.0 L106.0,311.4 L109.0,312.2 L112.0,312.6 L115.0,312.6 L118.0,313.0 L121.0,312.3 L124.0,311.5 L127.0,311.2 L130.0,311.4 L133.0,312.0 L136.0,312.8 L139.0,313.7 L142.0,313.3 L145.0,312.8 L148.0,312.8 L151.0,313.0 L154.0,313.2 L157.0,313.1 L160.0,313.6 L163.0,313.2 L166.0,313.5 L169.0,313.5 L172.0,313.5 L175.0,313.1 L178.0,312.8 L181.0,313.1 L184.0,312.8 L187.0,312.6 L190.0,313.1 L193.0,312.7 L196.0,312.9 L199.0,312.0 L202.0,312.6 L205.0,312.8 L208.0,313.3 L211.0,313.5 L214.0,313.9 L217.0,314.3 L220.0,314.7 L221.0,314.2 L221,459 Z" fill="rgb(255,116,0)"/>
<path d="M43,459 L43.0,315.8 L46.0,314.9 L49.0,314.7 L52.0,315.2 L55.0,315.7 L58.0,315.0 L61.0,314.6 L64.0,314.6 L67.0,314.7 L70.0,314.6 L73.0,314.9 L76.0,314.7 L79.0,315.2 L82.0,316.2 L85.0,316.8 L88.0,316.4 L91.0,316.2 L94.0,315.7 L97.0,315.3 L100.0,314.9 L103.0,315.3 L106.0,315.3 L109.0,315.8 L112.0,315.9 L115.0,316.0 L118.0,315.9 L121.0,315.3 L124.0,314.9 L127.0,314.9 L130.0,315.2 L133.0,316.0 L136.0,317.0 L139.0,317.4 L142.0,316.8 L145.0,316.6 L148.0,316.4 L151.0,316.6 L154.0,316.9 L157.0,316.9 L160.0,316.7 L163.0,316.4 L166.0,317.1 L169.0,316.8 L172.0,317.1 L175.0,317.0 L178.0,316.9 L181.0,316.9 L184.0,316.7 L187.0,316.5 L190.0,316.9 L193.0,316.9 L196.0,317.5 L199.0,317.1 L202.0,317.5 L205.0,317.6 L208.0,317.5 L211.0,317.2 L214.0,317.1 L217.0,317.4 L220.0,317.5 L221.0,317.2 L221,459 Z" fill="rgb(255,148,0)"/>
<path d="M43,459 L43.0,319.9 L46.0,318.8 L49.0,318.8 L52.0,319.1 L55.0,319.5 L58.0,318.6 L61.0,318.5 L64.0,318.6 L67.0,318.8 L70.0,318.4 L73.0,318.7 L76.0,318.7 L79.0,319.4 L82.0,320.3 L85.0,321.3 L88.0,321.0 L91.0,320.7 L94.0,319.7 L97.0,319.0 L100.0,318.3 L103.0,318.8 L106.0,318.9 L109.0,319.7 L112.0,320.6 L115.0,321.2 L118.0,321.2 L121.0,320.5 L124.0,320.0 L127.0,319.6 L130.0,319.2 L133.0,319.7 L136.0,320.2 L139.0,320.3 L142.0,320.0 L145.0,320.2 L148.0,320.5 L151.0,321.5 L154.0,321.5 L157.0,321.6 L160.0,321.8 L163.0,321.2 L166.0,321.3 L169.0,321.5 L172.0,321.1 L175.0,320.7 L178.0,320.6 L181.0,320.6 L184.0,320.7 L187.0,320.9 L190.0,321.2 L193.0,321.1 L196.0,321.4 L199.0,320.6 L202.0,320.8 L205.0,321.2 L208.0,321.3 L211.0,321.1 L214.0,321.6 L217.0,321.9 L220.0,321.7 L221.0,320.9 L221,459 Z" fill="rgb(255,185,0)"/>
<path d="M43,459 L43.0,323.8 L46.0,323.0 L49.0,323.2 L52.0,323.8 L55.0,324.5 L58.0,324.0 L61.0,323.7 L64.0,323.2 L67.0,323.9 L70.0,323.4 L73.0,322.9 L76.0,323.0 L79.0,323.8 L82.0,324.1 L85.0,324.8 L88.0,324.8 L91.0,324.1 L94.0,323.6 L97.0,323.4 L100.0,322.7 L103.0,323.2 L106.0,323.7 L109.0,323.9 L112.0,324.1 L115.0,324.6 L118.0,324.7 L121.0,323.9 L124.0,323.5 L127.0,323.2 L130.0,322.9 L133.0,323.3 L136.0,323.9 L139.0,324.4 L142.0,324.0 L145.0,323.9 L148.0,324.0 L151.0,324.7 L154.0,325.0 L157.0,325.0 L160.0,325.2 L163.0,324.7 L166.0,324.7 L169.0,324.5 L172.0,324.8 L175.0,324.8 L178.0,324.9 L181.0,325.1 L184.0,324.8 L187.0,324.2 L190.0,324.3 L193.0,324.0 L196.0,324.2 L199.0,323.8 L202.0,324.5 L205.0,324.9 L208.0,325.0 L211.0,324.8 L214.0,325.1 L217.0,325.2 L220.0,324.9 L221.0,324.2 L221,459 Z" fill="rgb(255,225,0)"/>
<path d="M43,459 L43.0,328.0 L46.0,327.4 L49.0,327.2 L52.0,327.8 L55.0,328.4 L58.0,328.0 L61.0,327.8 L64.0,328.1 L67.0,328.2 L70.0,328.0 L73.0,327.6 L76.0,327.4 L79.0,327.7 L82.0,328.5 L85.0,328.9 L88.0,328.6 L91.0,327.9 L94.0,327.5 L97.0,327.2 L100.0,326.9 L103.0,327.1 L106.0,327.8 L109.0,327.9 L112.0,328.1 L115.0,328.3 L118.0,328.5 L121.0,327.5 L124.0,327.2 L127.0,327.1 L130.0,327.2 L133.0,327.9 L136.0,329.0 L139.0,329.6 L142.0,329.2 L145.0,329.0 L148.0,329.0 L151.0,329.1 L154.0,329.0 L157.0,328.8 L160.0,328.7 L163.0,328.5 L166.0,329.0 L169.0,328.9 L172.0,329.1 L175.0,328.7 L178.0,328.4 L181.0,328.7 L184.0,328.7 L187.0,328.2 L190.0,329.2 L193.0,329.2 L196.0,329.5 L199.0,329.1 L202.0,329.8 L205.0,329.7 L208.0,329.9 L211.0,329.6 L214.0,329.3 L217.0,329.2 L220.0,329.0 L221.0,327.9 L221,459 Z" fill="rgb(232,250,0)"/>
<path d="M43,459 L43.0,332.8 L46.0,331.6 L49.0,331.4 L52.0,331.6 L55.0,332.6 L58.0,331.9 L61.0,331.9 L64.0,331.8 L67.0,331.9 L70.0,331.2 L73.0,331.2 L76.0,331.1 L79.0,331.9 L82.0,333.0 L85.0,333.4 L88.0,332.9 L91.0,332.4 L94.0,331.5 L97.0,330.8 L100.0,330.7 L103.0,330.8 L106.0,331.2 L109.0,331.6 L112.0,332.1 L115.0,332.0 L118.0,332.5 L121.0,331.7 L124.0,331.5 L127.0,331.5 L130.0,331.6 L133.0,331.7 L136.0,332.3 L139.0,333.0 L142.0,332.5 L145.0,332.5 L148.0,332.9 L151.0,333.7 L154.0,333.7 L157.0,333.6 L160.0,333.6 L163.0,332.9 L166.0,332.6 L169.0,332.4 L172.0,332.4 L175.0,332.3 L178.0,332.4 L181.0,333.2 L184.0,332.9 L187.0,332.3 L190.0,332.4 L193.0,332.0 L196.0,332.1 L199.0,332.0 L202.0,332.9 L205.0,332.9 L208.0,333.4 L211.0,333.2 L214.0,333.1 L217.0,333.2 L220.0,333.2 L221.0,332.7 L221,459 Z" fill="rgb(140,255,0)"/>
<path d="M43,459 L43.0,336.8 L46.0,335.5 L49.0,335.1 L52.0,335.5 L55.0,336.3 L58.0,336.0 L61.0,335.7 L64.0,336.0 L67.0,336.2 L70.0,335.9 L73.0,335.7 L76.0,335.8 L79.0,336.0 L82.0,337.0 L85.0,337.5 L88.0,337.1 L91.0,336.3 L94.0,336.0 L97.0,335.3 L100.0,334.4 L103.0,334.8 L106.0,335.1 L109.0,335.1 L112.0,335.5 L115.0,335.7 L118.0,336.0 L121.0,335.5 L124.0,335.3 L127.0,335.1 L130.0,335.3 L133.0,335.9 L136.0,336.8 L139.0,337.0 L142.0,336.7 L145.0,336.3 L148.0,336.1 L151.0,336.5 L154.0,336.8 L157.0,336.8 L160.0,337.3 L163.0,336.9 L166.0,337.3 L169.0,337.4 L172.0,337.4 L175.0,336.8 L178.0,336.5 L181.0,336.6 L184.0,336.3 L187.0,336.0 L190.0,336.5 L193.0,336.4 L196.0,336.7 L199.0,336.3 L202.0,336.4 L205.0,336.5 L208.0,336.6 L211.0,336.4 L214.0,336.5 L217.0,336.8 L220.0,336.8 L221.0,336.1 L221,459 Z" fill="rgb(40,245,0)"/>
<path d="M43,459 L43.0,340.4 L46.0,339.9 L49.0,339.5 L52.0,339.9 L55.0,340.4 L58.0,340.2 L61.0,340.1 L64.0,340.4 L67.0,340.7 L70.0,340.5 L73.0,339.9 L76.0,339.3 L79.0,339.5 L82.0,340.3 L85.0,340.7 L88.0,340.8 L91.0,340.8 L94.0,340.5 L97.0,340.1 L100.0,339.4 L103.0,339.8 L106.0,340.0 L109.0,340.4 L112.0,340.4 L115.0,340.9 L118.0,340.8 L121.0,339.9 L124.0,339.1 L127.0,339.3 L130.0,339.2 L133.0,339.9 L136.0,340.4 L139.0,341.2 L142.0,340.5 L145.0,340.3 L148.0,340.1 L151.0,340.4 L154.0,340.1 L157.0,340.4 L160.0,340.6 L163.0,340.3 L166.0,340.9 L169.0,341.4 L172.0,341.3 L175.0,341.2 L178.0,341.1 L181.0,341.2 L184.0,340.8 L187.0,340.6 L190.0,340.6 L193.0,340.6 L196.0,341.1 L199.0,340.6 L202.0,340.6 L205.0,340.8 L208.0,341.0 L211.0,340.7 L214.0,341.3 L217.0,341.6 L220.0,341.7 L221.0,341.0 L221,459 Z" fill="rgb(13,241,6)"/>
<path d="M43,459 L43.0,345.1 L46.0,344.3 L49.0,344.2 L52.0,344.8 L55.0,345.3 L58.0,344.7 L61.0,344.5 L64.0,344.5 L67.0,344.9 L70.0,344.4 L73.0,344.5 L76.0,344.5 L79.0,344.8 L82.0,345.4 L85.0,346.0 L88.0,345.4 L91.0,344.7 L94.0,344.1 L97.0,343.5 L100.0,342.7 L103.0,343.0 L106.0,343.3 L109.0,343.8 L112.0,344.5 L115.0,345.0 L118.0,345.5 L121.0,344.9 L124.0,344.0 L127.0,343.6 L130.0,343.5 L133.0,343.9 L136.0,344.3 L139.0,345.1 L142.0,344.6 L145.0,344.3 L148.0,344.4 L151.0,345.2 L154.0,344.9 L157.0,345.0 L160.0,344.8 L163.0,344.0 L166.0,344.4 L169.0,345.0 L172.0,344.7 L175.0,344.9 L178.0,344.7 L181.0,344.8 L184.0,344.3 L187.0,344.0 L190.0,344.2 L193.0,344.4 L196.0,344.8 L199.0,344.1 L202.0,344.6 L205.0,344.5 L208.0,344.4 L211.0,343.9 L214.0,344.3 L217.0,345.0 L220.0,345.1 L221.0,344.6 L221,459 Z" fill="rgb(0,240,26)"/>
<path d="M43,459 L43.0,349.7 L46.0,348.7 L49.0,348.6 L52.0,349.0 L55.0,349.3 L58.0,349.1 L61.0,348.8 L64.0,348.6 L67.0,348.9 L70.0,348.3 L73.0,347.7 L76.0,347.8 L79.0,348.2 L82.0,348.5 L85.0,349.0 L88.0,348.8 L91.0,348.1 L94.0,347.8 L97.0,347.3 L100.0,347.2 L103.0,347.6 L106.0,347.9 L109.0,348.3 L112.0,348.6 L115.0,348.8 L118.0,348.6 L121.0,347.9 L124.0,347.2 L127.0,347.1 L130.0,347.1 L133.0,347.5 L136.0,348.5 L139.0,348.8 L142.0,348.3 L145.0,347.9 L148.0,348.0 L151.0,348.5 L154.0,348.7 L157.0,348.7 L160.0,349.0 L163.0,348.8 L166.0,348.9 L169.0,349.0 L172.0,348.9 L175.0,348.5 L178.0,348.1 L181.0,348.6 L184.0,348.4 L187.0,348.3 L190.0,349.0 L193.0,349.0 L196.0,349.3 L199.0,348.7 L202.0,348.7 L205.0,348.8 L208.0,349.2 L211.0,348.9 L214.0,349.3 L217.0,349.8 L220.0,349.6 L221.0,348.9 L221,459 Z" fill="rgb(0,240,60)"/>
<path d="M43,459 L43.0,354.1 L46.0,352.7 L49.0,352.5 L52.0,353.0 L55.0,353.1 L58.0,352.9 L61.0,352.7 L64.0,353.0 L67.0,353.1 L70.0,353.0 L73.0,352.4 L76.0,352.2 L79.0,352.6 L82.0,353.1 L85.0,353.6 L88.0,353.7 L91.0,353.2 L94.0,352.4 L97.0,352.0 L100.0,351.5 L103.0,351.3 L106.0,351.7 L109.0,352.0 L112.0,352.4 L115.0,352.4 L118.0,352.7 L121.0,351.9 L124.0,351.3 L127.0,351.3 L130.0,351.2 L133.0,351.4 L136.0,352.1 L139.0,352.8 L142.0,352.3 L145.0,352.0 L148.0,352.3 L151.0,352.8 L154.0,352.9 L157.0,352.6 L160.0,353.1 L163.0,352.9 L166.0,352.9 L169.0,353.0 L172.0,353.0 L175.0,352.7 L178.0,352.6 L181.0,353.0 L184.0,353.0 L187.0,352.5 L190.0,353.0 L193.0,352.6 L196.0,352.8 L199.0,352.2 L202.0,353.1 L205.0,353.1 L208.0,353.5 L211.0,353.5 L214.0,353.3 L217.0,353.4 L220.0,353.5 L221.0,352.6 L221,459 Z" fill="rgb(0,240,88)"/>
<path d="M43,459 L43.0,357.8 L46.0,356.7 L49.0,356.5 L52.0,357.4 L55.0,357.7 L58.0,357.5 L61.0,357.6 L64.0,357.8 L67.0,357.9 L70.0,357.1 L73.0,356.5 L76.0,356.2 L79.0,356.2 L82.0,356.6 L85.0,357.2 L88.0,357.4 L91.0,357.2 L94.0,356.8 L97.0,356.3 L100.0,355.9 L103.0,355.5 L106.0,355.5 L109.0,355.5 L112.0,355.9 L115.0,356.2 L118.0,356.5 L121.0,356.0 L124.0,355.8 L127.0,355.8 L130.0,355.5 L133.0,355.8 L136.0,356.5 L139.0,356.9 L142.0,356.2 L145.0,356.3 L148.0,356.7 L151.0,357.3 L154.0,357.3 L157.0,357.2 L160.0,357.0 L163.0,356.3 L166.0,356.2 L169.0,356.7 L172.0,356.8 L175.0,356.6 L178.0,356.3 L181.0,356.6 L184.0,356.5 L187.0,356.1 L190.0,357.0 L193.0,356.9 L196.0,357.2 L199.0,356.6 L202.0,356.8 L205.0,356.7 L208.0,357.0 L211.0,356.9 L214.0,356.9 L217.0,357.7 L220.0,357.6 L221.0,356.9 L221,459 Z" fill="rgb(0,240,120)"/>
<path d="M43,459 L43.0,362.9 L46.0,362.3 L49.0,362.1 L52.0,362.3 L55.0,362.5 L58.0,362.0 L61.0,361.3 L64.0,361.4 L67.0,361.9 L70.0,361.4 L73.0,361.0 L76.0,360.7 L79.0,360.8 L82.0,361.3 L85.0,361.9 L88.0,361.9 L91.0,361.2 L94.0,360.8 L97.0,360.2 L100.0,359.8 L103.0,359.8 L106.0,360.4 L109.0,360.8 L112.0,361.1 L115.0,361.0 L118.0,361.2 L121.0,360.4 L124.0,359.7 L127.0,359.6 L130.0,359.4 L133.0,359.8 L136.0,360.2 L139.0,360.6 L142.0,359.9 L145.0,359.9 L148.0,360.1 L151.0,361.0 L154.0,361.0 L157.0,361.4 L160.0,361.3 L163.0,360.4 L166.0,360.6 L169.0,360.8 L172.0,360.5 L175.0,360.6 L178.0,360.9 L181.0,361.4 L184.0,361.2 L187.0,361.1 L190.0,361.5 L193.0,361.4 L196.0,361.4 L199.0,360.9 L202.0,361.4 L205.0,361.2 L208.0,361.4 L211.0,361.0 L214.0,361.0 L217.0,361.3 L220.0,361.6 L221.0,360.8 L221,459 Z" fill="rgb(0,240,160)"/>
<path d="M43,459 L43.0,367.0 L46.0,366.2 L49.0,366.1 L52.0,366.7 L55.0,367.5 L58.0,366.9 L61.0,366.9 L64.0,366.6 L67.0,366.6 L70.0,365.9 L73.0,365.4 L76.0,365.2 L79.0,365.6 L82.0,366.3 L85.0,366.6 L88.0,366.3 L91.0,365.3 L94.0,364.9 L97.0,364.1 L100.0,363.7 L103.0,364.1 L106.0,364.1 L109.0,364.2 L112.0,364.4 L115.0,364.4 L118.0,364.5 L121.0,363.9 L124.0,363.2 L127.0,363.0 L130.0,362.8 L133.0,363.0 L136.0,363.4 L139.0,364.0 L142.0,363.8 L145.0,364.1 L148.0,364.6 L151.0,365.3 L154.0,365.6 L157.0,365.3 L160.0,364.9 L163.0,364.2 L166.0,364.8 L169.0,365.0 L172.0,364.9 L175.0,365.0 L178.0,364.9 L181.0,365.1 L184.0,365.0 L187.0,365.2 L190.0,365.4 L193.0,365.2 L196.0,365.6 L199.0,365.0 L202.0,365.3 L205.0,365.9 L208.0,366.2 L211.0,365.9 L214.0,366.1 L217.0,366.5 L220.0,366.3 L221.0,365.6 L221,459 Z" fill="rgb(0,240,203)"/>
<path d="M43,459 L43.0,371.7 L46.0,370.7 L49.0,370.7 L52.0,371.3 L55.0,371.4 L58.0,371.0 L61.0,370.5 L64.0,369.9 L67.0,369.8 L70.0,369.4 L73.0,368.9 L76.0,368.9 L79.0,369.4 L82.0,370.0 L85.0,370.6 L88.0,370.1 L91.0,369.3 L94.0,368.5 L97.0,368.1 L100.0,367.3 L103.0,367.4 L106.0,367.4 L109.0,367.7 L112.0,367.9 L115.0,367.9 L118.0,368.0 L121.0,367.4 L124.0,366.7 L127.0,366.5 L130.0,366.7 L133.0,367.4 L136.0,368.1 L139.0,368.6 L142.0,368.2 L145.0,367.8 L148.0,368.0 L151.0,368.8 L154.0,369.0 L157.0,368.9 L160.0,369.1 L163.0,368.7 L166.0,368.7 L169.0,369.3 L172.0,369.2 L175.0,368.9 L178.0,368.9 L181.0,369.2 L184.0,368.8 L187.0,368.6 L190.0,369.3 L193.0,369.1 L196.0,369.3 L199.0,368.7 L202.0,369.1 L205.0,369.1 L208.0,369.0 L211.0,369.2 L214.0,369.6 L217.0,370.0 L220.0,370.1 L221.0,369.4 L221,459 Z" fill="rgb(0,234,237)"/>
<path d="M43,459 L43.0,375.1 L46.0,374.1 L49.0,373.9 L52.0,374.4 L55.0,375.2 L58.0,374.7 L61.0,374.5 L64.0,374.1 L67.0,374.1 L70.0,373.5 L73.0,373.1 L76.0,372.7 L79.0,373.1 L82.0,374.0 L85.0,374.1 L88.0,374.1 L91.0,373.5 L94.0,373.1 L97.0,372.2 L100.0,371.9 L103.0,371.6 L106.0,371.7 L109.0,371.6 L112.0,371.8 L115.0,371.8 L118.0,372.4 L121.0,371.6 L124.0,371.4 L127.0,371.3 L130.0,371.0 L133.0,370.9 L136.0,371.7 L139.0,371.8 L142.0,371.5 L145.0,371.6 L148.0,371.8 L151.0,372.6 L154.0,372.9 L157.0,373.0 L160.0,373.0 L163.0,372.8 L166.0,373.1 L169.0,373.5 L172.0,373.2 L175.0,373.5 L178.0,373.2 L181.0,373.2 L184.0,373.1 L187.0,373.0 L190.0,373.3 L193.0,373.1 L196.0,373.3 L199.0,372.5 L202.0,373.0 L205.0,372.9 L208.0,373.3 L211.0,373.2 L214.0,373.5 L217.0,373.8 L220.0,373.6 L221.0,372.9 L221,459 Z" fill="rgb(0,219,255)"/>
<path d="M43,459 L43.0,378.7 L46.0,378.0 L49.0,377.5 L52.0,378.2 L55.0,378.8 L58.0,378.5 L61.0,378.0 L64.0,378.1 L67.0,378.5 L70.0,378.0 L73.0,377.8 L76.0,377.6 L79.0,378.1 L82.0,378.2 L85.0,378.6 L88.0,377.8 L91.0,377.4 L94.0,376.7 L97.0,376.3 L100.0,375.9 L103.0,376.0 L106.0,376.1 L109.0,376.5 L112.0,376.6 L115.0,376.6 L118.0,376.9 L121.0,376.3 L124.0,375.7 L127.0,375.5 L130.0,375.6 L133.0,375.8 L136.0,376.0 L139.0,376.1 L142.0,375.7 L145.0,375.4 L148.0,375.5 L151.0,376.4 L154.0,376.7 L157.0,376.9 L160.0,377.2 L163.0,377.2 L166.0,377.6 L169.0,377.9 L172.0,377.8 L175.0,377.6 L178.0,377.4 L181.0,377.5 L184.0,377.5 L187.0,377.0 L190.0,377.3 L193.0,377.2 L196.0,377.4 L199.0,376.9 L202.0,377.4 L205.0,377.6 L208.0,377.3 L211.0,377.0 L214.0,376.7 L217.0,377.2 L220.0,377.3 L221.0,376.8 L221,459 Z" fill="rgb(0,195,255)"/>
<path d="M43,459 L43.0,383.8 L46.0,382.8 L49.0,382.7 L52.0,383.2 L55.0,383.4 L58.0,382.4 L61.0,382.2 L64.0,382.0 L67.0,382.3 L70.0,381.9 L73.0,382.1 L76.0,381.8 L79.0,382.3 L82.0,382.8 L85.0,383.4 L88.0,382.9 L91.0,382.2 L94.0,381.4 L97.0,380.6 L100.0,379.9 L103.0,379.9 L106.0,379.9 L109.0,380.0 L112.0,380.4 L115.0,380.2 L118.0,380.3 L121.0,380.1 L124.0,379.5 L127.0,379.3 L130.0,379.3 L133.0,379.9 L136.0,380.1 L139.0,380.4 L142.0,380.2 L145.0,380.2 L148.0,380.2 L151.0,380.8 L154.0,381.0 L157.0,380.5 L160.0,380.6 L163.0,380.6 L166.0,381.2 L169.0,381.4 L172.0,381.4 L175.0,381.3 L178.0,380.9 L181.0,381.3 L184.0,381.4 L187.0,381.2 L190.0,381.4 L193.0,381.4 L196.0,381.6 L199.0,381.0 L202.0,381.5 L205.0,382.0 L208.0,382.0 L211.0,381.8 L214.0,381.8 L217.0,382.3 L220.0,382.2 L221.0,381.7 L221,459 Z" fill="rgb(0,172,254)"/>
<path d="M43,459 L43.0,387.7 L46.0,386.9 L49.0,386.9 L52.0,387.8 L55.0,388.3 L58.0,387.3 L61.0,387.0 L64.0,387.0 L67.0,386.8 L70.0,386.5 L73.0,386.3 L76.0,386.2 L79.0,386.5 L82.0,387.3 L85.0,387.7 L88.0,387.6 L91.0,386.5 L94.0,385.8 L97.0,385.1 L100.0,384.3 L103.0,384.2 L106.0,384.2 L109.0,384.4 L112.0,384.6 L115.0,385.1 L118.0,385.3 L121.0,384.7 L124.0,384.0 L127.0,383.3 L130.0,382.8 L133.0,383.1 L136.0,383.9 L139.0,384.2 L142.0,383.8 L145.0,383.7 L148.0,383.7 L151.0,384.0 L154.0,384.4 L157.0,384.7 L160.0,385.3 L163.0,385.2 L166.0,385.8 L169.0,386.0 L172.0,385.8 L175.0,385.6 L178.0,385.4 L181.0,385.8 L184.0,385.5 L187.0,385.4 L190.0,385.8 L193.0,385.7 L196.0,385.7 L199.0,385.3 L202.0,385.7 L205.0,385.4 L208.0,385.5 L211.0,385.6 L214.0,385.5 L217.0,385.7 L220.0,385.8 L221.0,384.9 L221,459 Z" fill="rgb(0,150,255)"/>
<path d="M43,459 L43.0,392.9 L46.0,392.1 L49.0,391.9 L52.0,392.3 L55.0,392.5 L58.0,392.0 L61.0,391.7 L64.0,391.8 L67.0,392.2 L70.0,391.7 L73.0,391.4 L76.0,391.1 L79.0,391.3 L82.0,391.2 L85.0,391.8 L88.0,391.6 L91.0,390.7 L94.0,390.0 L97.0,389.3 L100.0,388.5 L103.0,388.2 L106.0,388.3 L109.0,388.1 L112.0,388.7 L115.0,388.6 L118.0,388.6 L121.0,387.7 L124.0,387.2 L127.0,386.8 L130.0,387.0 L133.0,387.6 L136.0,388.3 L139.0,388.6 L142.0,388.4 L145.0,388.1 L148.0,388.4 L151.0,389.1 L154.0,389.3 L157.0,389.3 L160.0,389.5 L163.0,389.3 L166.0,389.8 L169.0,389.9 L172.0,390.1 L175.0,389.7 L178.0,389.2 L181.0,389.5 L184.0,389.8 L187.0,389.5 L190.0,389.9 L193.0,389.8 L196.0,389.8 L199.0,388.9 L202.0,389.0 L205.0,389.4 L208.0,389.8 L211.0,389.5 L214.0,389.9 L217.0,390.5 L220.0,390.4 L221.0,389.3 L221,459 Z" fill="rgb(0,137,255)"/>
<path d="M43,459 L43.0,398.4 L46.0,397.3 L49.0,396.8 L52.0,397.2 L55.0,397.6 L58.0,397.5 L61.0,397.5 L64.0,397.4 L67.0,397.8 L70.0,397.2 L73.0,396.5 L76.0,396.0 L79.0,396.6 L82.0,396.6 L85.0,396.7 L88.0,396.3 L91.0,395.5 L94.0,394.2 L97.0,393.3 L100.0,392.5 L103.0,392.5 L106.0,392.3 L109.0,392.1 L112.0,392.7 L115.0,392.6 L118.0,392.4 L121.0,391.7 L124.0,391.5 L127.0,391.1 L130.0,390.8 L133.0,391.2 L136.0,391.9 L139.0,392.3 L142.0,391.6 L145.0,391.8 L148.0,391.9 L151.0,392.3 L154.0,392.4 L157.0,392.5 L160.0,392.6 L163.0,392.7 L166.0,393.2 L169.0,393.6 L172.0,393.5 L175.0,393.7 L178.0,393.4 L181.0,393.9 L184.0,394.0 L187.0,394.1 L190.0,394.1 L193.0,394.2 L196.0,394.4 L199.0,393.5 L202.0,393.6 L205.0,393.6 L208.0,393.9 L211.0,393.6 L214.0,393.6 L217.0,394.2 L220.0,394.2 L221.0,393.2 L221,459 Z" fill="rgb(0,125,255)"/>
<path d="M43,459 L43.0,403.6 L46.0,402.6 L49.0,402.5 L52.0,402.5 L55.0,403.1 L58.0,402.0 L61.0,402.2 L64.0,402.3 L67.0,402.5 L70.0,401.6 L73.0,401.4 L76.0,400.5 L79.0,400.6 L82.0,401.0 L85.0,401.6 L88.0,401.2 L91.0,400.3 L94.0,399.1 L97.0,397.9 L100.0,396.6 L103.0,396.3 L106.0,396.5 L109.0,396.3 L112.0,396.8 L115.0,397.2 L118.0,397.5 L121.0,396.7 L124.0,396.2 L127.0,395.8 L130.0,395.2 L133.0,395.4 L136.0,396.1 L139.0,396.7 L142.0,396.4 L145.0,396.3 L148.0,396.5 L151.0,396.7 L154.0,396.6 L157.0,396.5 L160.0,397.2 L163.0,396.6 L166.0,397.3 L169.0,398.1 L172.0,398.0 L175.0,397.8 L178.0,397.9 L181.0,398.7 L184.0,398.6 L187.0,398.4 L190.0,399.0 L193.0,399.1 L196.0,398.9 L199.0,397.9 L202.0,398.4 L205.0,398.3 L208.0,398.1 L211.0,397.7 L214.0,397.9 L217.0,398.4 L220.0,398.4 L221.0,397.9 L221,459 Z" fill="rgb(0,117,253)"/>
<path d="M43,459 L43.0,410.4 L46.0,409.3 L49.0,409.2 L52.0,409.6 L55.0,410.2 L58.0,409.3 L61.0,409.2 L64.0,408.8 L67.0,408.6 L70.0,407.6 L73.0,407.0 L76.0,406.6 L79.0,406.8 L82.0,406.9 L85.0,407.0 L88.0,406.5 L91.0,405.4 L94.0,404.1 L97.0,402.9 L100.0,402.3 L103.0,401.9 L106.0,401.4 L109.0,401.2 L112.0,401.4 L115.0,401.1 L118.0,401.0 L121.0,400.5 L124.0,399.8 L127.0,399.8 L130.0,399.6 L133.0,399.9 L136.0,400.4 L139.0,400.9 L142.0,400.3 L145.0,400.3 L148.0,400.6 L151.0,401.1 L154.0,401.3 L157.0,401.4 L160.0,401.6 L163.0,401.2 L166.0,402.1 L169.0,402.9 L172.0,403.0 L175.0,403.1 L178.0,403.6 L181.0,403.6 L184.0,403.2 L187.0,403.1 L190.0,403.0 L193.0,402.5 L196.0,402.7 L199.0,402.1 L202.0,402.0 L205.0,402.2 L208.0,402.2 L211.0,402.1 L214.0,402.5 L217.0,403.3 L220.0,403.2 L221.0,402.6 L221,459 Z" fill="rgb(0,109,252)"/>
<path d="M43,459 L43.0,417.0 L46.0,415.7 L49.0,415.6 L52.0,415.9 L55.0,416.1 L58.0,415.4 L61.0,414.7 L64.0,414.3 L67.0,414.4 L70.0,413.9 L73.0,413.5 L76.0,413.1 L79.0,413.1 L82.0,413.2 L85.0,413.4 L88.0,412.3 L91.0,411.4 L94.0,410.0 L97.0,408.5 L100.0,407.3 L103.0,406.8 L106.0,406.3 L109.0,405.6 L112.0,405.8 L115.0,405.6 L118.0,405.6 L121.0,404.7 L124.0,404.3 L127.0,403.9 L130.0,403.3 L133.0,403.8 L136.0,404.5 L139.0,404.9 L142.0,404.6 L145.0,404.5 L148.0,404.4 L151.0,404.8 L154.0,404.6 L157.0,404.7 L160.0,405.3 L163.0,405.2 L166.0,406.1 L169.0,407.2 L172.0,407.4 L175.0,407.3 L178.0,407.9 L181.0,408.3 L184.0,408.0 L187.0,407.9 L190.0,408.4 L193.0,407.8 L196.0,407.8 L199.0,407.1 L202.0,407.0 L205.0,407.2 L208.0,407.0 L211.0,406.9 L214.0,407.3 L217.0,408.1 L220.0,408.0 L221.0,407.5 L221,459 Z" fill="rgb(0,105,251)"/>
<path d="M43,459 L43.0,422.9 L46.0,421.8 L49.0,421.4 L52.0,422.0 L55.0,421.9 L58.0,421.5 L61.0,420.7 L64.0,420.3 L67.0,420.0 L70.0,419.6 L73.0,419.1 L76.0,418.7 L79.0,418.9 L82.0,419.2 L85.0,419.0 L88.0,418.1 L91.0,416.4 L94.0,414.5 L97.0,413.1 L100.0,411.9 L103.0,411.2 L106.0,410.9 L109.0,410.7 L112.0,410.4 L115.0,409.8 L118.0,409.5 L121.0,408.7 L124.0,407.8 L127.0,407.3 L130.0,407.2 L133.0,407.5 L136.0,407.7 L139.0,408.1 L142.0,408.0 L145.0,408.0 L148.0,407.9 L151.0,408.4 L154.0,408.4 L157.0,408.0 L160.0,408.5 L163.0,408.5 L166.0,410.1 L169.0,411.1 L172.0,411.9 L175.0,411.9 L178.0,412.5 L181.0,413.1 L184.0,413.2 L187.0,412.6 L190.0,412.8 L193.0,411.9 L196.0,412.0 L199.0,411.4 L202.0,411.9 L205.0,411.8 L208.0,412.1 L211.0,411.8 L214.0,412.2 L217.0,412.9 L220.0,413.3 L221.0,412.9 L221,459 Z" fill="rgb(0,102,251)"/>
<path d="M43,459 L43.0,422.3 L46.0,421.6 L49.0,421.2 L52.0,421.7 L55.0,421.7 L58.0,421.3 L61.0,420.7 L64.0,420.4 L67.0,420.8 L70.0,420.2 L73.0,419.6 L76.0,419.3 L79.0,419.8 L82.0,419.8 L85.0,419.9 L88.0,418.9 L91.0,417.9 L94.0,416.3 L97.0,414.9 L100.0,414.0 L103.0,414.0 L106.0,413.4 L109.0,413.3 L112.0,413.3 L115.0,413.1 L118.0,413.0 L121.0,412.3 L124.0,411.8 L127.0,411.5 L130.0,411.2 L133.0,411.3 L136.0,412.0 L139.0,412.7 L142.0,412.6 L145.0,412.4 L148.0,412.7 L151.0,413.0 L154.0,412.7 L157.0,412.5 L160.0,412.8 L163.0,412.5 L166.0,413.8 L169.0,414.4 L172.0,414.9 L175.0,415.3 L178.0,415.3 L181.0,415.6 L184.0,415.5 L187.0,414.8 L190.0,415.2 L193.0,414.7 L196.0,415.0 L199.0,414.5 L202.0,415.0 L205.0,415.1 L208.0,415.4 L211.0,415.0 L214.0,415.0 L217.0,415.1 L220.0,415.0 L221.0,414.2 L221,459 Z" fill="rgb(0,98,250)"/>
<path d="M43,459 L43.0,423.6 L46.0,422.6 L49.0,422.6 L52.0,423.1 L55.0,423.4 L58.0,422.7 L61.0,422.1 L64.0,422.0 L67.0,422.3 L70.0,422.2 L73.0,421.8 L76.0,421.6 L79.0,421.8 L82.0,421.8 L85.0,422.0 L88.0,421.5 L91.0,420.6 L94.0,419.1 L97.0,418.2 L100.0,416.9 L103.0,416.5 L106.0,416.2 L109.0,416.6 L112.0,416.8 L115.0,417.0 L118.0,417.0 L121.0,416.3 L124.0,415.2 L127.0,415.0 L130.0,414.8 L133.0,415.1 L136.0,415.9 L139.0,416.4 L142.0,416.1 L145.0,416.0 L148.0,416.5 L151.0,416.8 L154.0,416.9 L157.0,416.7 L160.0,416.8 L163.0,416.5 L166.0,416.9 L169.0,417.7 L172.0,418.0 L175.0,418.3 L178.0,418.3 L181.0,419.1 L184.0,418.8 L187.0,418.6 L190.0,419.0 L193.0,418.7 L196.0,419.0 L199.0,418.3 L202.0,418.6 L205.0,418.6 L208.0,418.5 L211.0,418.1 L214.0,418.3 L217.0,418.5 L220.0,418.2 L221.0,417.7 L221,459 Z" fill="rgb(0,95,250)"/>
<path d="M43,459 L43.0,426.0 L46.0,424.6 L49.0,424.3 L52.0,424.7 L55.0,425.0 L58.0,424.6 L61.0,424.3 L64.0,424.1 L67.0,424.5 L70.0,424.2 L73.0,423.9 L76.0,423.6 L79.0,424.2 L82.0,424.1 L85.0,424.1 L88.0,423.5 L91.0,423.1 L94.0,421.9 L97.0,421.2 L100.0,420.4 L103.0,420.3 L106.0,420.2 L109.0,420.2 L112.0,420.5 L115.0,420.5 L118.0,420.4 L121.0,419.3 L124.0,419.0 L127.0,419.0 L130.0,419.0 L133.0,419.7 L136.0,420.4 L139.0,420.8 L142.0,420.2 L145.0,420.0 L148.0,420.2 L151.0,420.7 L154.0,420.8 L157.0,421.0 L160.0,421.0 L163.0,420.6 L166.0,421.4 L169.0,421.4 L172.0,421.4 L175.0,421.7 L178.0,421.9 L181.0,421.9 L184.0,422.0 L187.0,421.5 L190.0,421.9 L193.0,421.7 L196.0,422.3 L199.0,421.3 L202.0,421.8 L205.0,421.7 L208.0,421.8 L211.0,421.4 L214.0,421.6 L217.0,422.2 L220.0,422.3 L221.0,421.7 L221,459 Z" fill="rgb(0,92,250)"/>
<path d="M43,459 L43.0,428.3 L46.0,427.5 L49.0,427.2 L52.0,427.8 L55.0,428.6 L58.0,428.0 L61.0,427.5 L64.0,427.5 L67.0,427.5 L70.0,427.0 L73.0,427.2 L76.0,426.8 L79.0,426.8 L82.0,427.0 L85.0,427.0 L88.0,426.4 L91.0,426.1 L94.0,425.2 L97.0,424.6 L100.0,424.1 L103.0,424.4 L106.0,424.3 L109.0,424.5 L112.0,424.6 L115.0,424.5 L118.0,424.2 L121.0,423.6 L124.0,423.1 L127.0,422.8 L130.0,422.6 L133.0,423.0 L136.0,423.4 L139.0,424.0 L142.0,423.9 L145.0,424.2 L148.0,424.3 L151.0,424.8 L154.0,424.9 L157.0,425.1 L160.0,425.1 L163.0,424.8 L166.0,425.0 L169.0,425.4 L172.0,425.3 L175.0,425.2 L178.0,425.4 L181.0,426.2 L184.0,425.8 L187.0,425.2 L190.0,425.9 L193.0,425.4 L196.0,425.7 L199.0,425.1 L202.0,425.7 L205.0,425.5 L208.0,425.5 L211.0,424.9 L214.0,424.8 L217.0,425.1 L220.0,424.9 L221.0,424.5 L221,459 Z" fill="rgb(0,84,249)"/>
<path d="M43,459 L43.0,431.8 L46.0,430.9 L49.0,430.6 L52.0,431.1 L55.0,431.7 L58.0,431.2 L61.0,431.1 L64.0,431.1 L67.0,431.0 L70.0,430.6 L73.0,430.1 L76.0,429.8 L79.0,429.9 L82.0,430.5 L85.0,430.7 L88.0,430.3 L91.0,429.3 L94.0,428.5 L97.0,427.8 L100.0,427.4 L103.0,427.3 L106.0,427.8 L109.0,428.2 L112.0,429.0 L115.0,428.9 L118.0,429.4 L121.0,428.7 L124.0,428.2 L127.0,427.9 L130.0,427.6 L133.0,428.2 L136.0,428.8 L139.0,429.1 L142.0,428.4 L145.0,428.4 L148.0,428.3 L151.0,428.6 L154.0,428.7 L157.0,428.7 L160.0,429.0 L163.0,428.4 L166.0,428.6 L169.0,429.0 L172.0,429.0 L175.0,428.4 L178.0,428.4 L181.0,428.8 L184.0,428.5 L187.0,428.4 L190.0,428.7 L193.0,428.4 L196.0,428.9 L199.0,428.7 L202.0,429.1 L205.0,429.4 L208.0,429.7 L211.0,429.5 L214.0,429.4 L217.0,429.7 L220.0,429.6 L221.0,428.8 L221,459 Z" fill="rgb(0,76,248)"/>
<path d="M43,459 L43.0,434.6 L46.0,433.4 L49.0,433.2 L52.0,433.7 L55.0,433.9 L58.0,433.4 L61.0,433.3 L64.0,433.2 L67.0,433.4 L70.0,433.1 L73.0,432.7 L76.0,432.8 L79.0,433.4 L82.0,433.7 L85.0,433.9 L88.0,433.5 L91.0,432.6 L94.0,431.7 L97.0,431.2 L100.0,431.2 L103.0,431.4 L106.0,431.7 L109.0,432.2 L112.0,432.4 L115.0,432.2 L118.0,432.2 L121.0,431.4 L124.0,430.7 L127.0,430.4 L130.0,430.3 L133.0,430.9 L136.0,431.4 L139.0,432.0 L142.0,431.7 L145.0,431.9 L148.0,432.3 L151.0,432.9 L154.0,432.9 L157.0,433.0 L160.0,433.0 L163.0,432.2 L166.0,432.9 L169.0,433.4 L172.0,433.2 L175.0,432.6 L178.0,432.5 L181.0,432.5 L184.0,432.3 L187.0,432.1 L190.0,432.8 L193.0,432.8 L196.0,432.9 L199.0,432.2 L202.0,432.8 L205.0,432.6 L208.0,432.7 L211.0,432.7 L214.0,433.2 L217.0,433.3 L220.0,433.6 L221.0,433.0 L221,459 Z" fill="rgb(0,66,247)"/>
<path d="M43,459 L43.0,437.9 L46.0,436.7 L49.0,436.6 L52.0,437.4 L55.0,437.8 L58.0,437.2 L61.0,437.2 L64.0,437.0 L67.0,437.5 L70.0,437.0 L73.0,436.8 L76.0,436.4 L79.0,436.8 L82.0,437.2 L85.0,437.8 L88.0,437.7 L91.0,437.5 L94.0,437.0 L97.0,436.5 L100.0,436.2 L103.0,436.0 L106.0,436.1 L109.0,436.0 L112.0,436.2 L115.0,436.3 L118.0,436.8 L121.0,436.2 L124.0,436.0 L127.0,435.9 L130.0,435.4 L133.0,435.6 L136.0,435.8 L139.0,436.1 L142.0,435.8 L145.0,435.6 L148.0,436.0 L151.0,436.6 L154.0,437.0 L157.0,437.1 L160.0,437.1 L163.0,436.6 L166.0,437.1 L169.0,437.1 L172.0,436.5 L175.0,436.6 L178.0,436.5 L181.0,436.7 L184.0,436.3 L187.0,436.4 L190.0,436.5 L193.0,436.2 L196.0,436.4 L199.0,436.0 L202.0,436.3 L205.0,436.4 L208.0,437.0 L211.0,436.5 L214.0,436.4 L217.0,436.9 L220.0,436.9 L221.0,436.1 L221,459 Z" fill="rgb(0,55,245)"/>
<path d="M43,459 L43.0,441.8 L46.0,441.0 L49.0,440.9 L52.0,441.4 L55.0,442.2 L58.0,441.3 L61.0,441.0 L64.0,441.1 L67.0,441.3 L70.0,440.7 L73.0,440.6 L76.0,440.2 L79.0,440.7 L82.0,441.1 L85.0,441.4 L88.0,441.2 L91.0,440.4 L94.0,439.3 L97.0,439.2 L100.0,439.0 L103.0,439.3 L106.0,439.9 L109.0,440.4 L112.0,440.8 L115.0,440.8 L118.0,441.0 L121.0,440.4 L124.0,439.7 L127.0,439.4 L130.0,439.3 L133.0,439.7 L136.0,440.1 L139.0,440.5 L142.0,439.9 L145.0,440.0 L148.0,440.3 L151.0,440.9 L154.0,440.9 L157.0,441.0 L160.0,441.0 L163.0,440.4 L166.0,440.5 L169.0,440.8 L172.0,440.6 L175.0,440.2 L178.0,440.1 L181.0,440.7 L184.0,440.5 L187.0,440.4 L190.0,441.0 L193.0,440.7 L196.0,440.8 L199.0,440.7 L202.0,440.7 L205.0,441.0 L208.0,441.4 L211.0,441.0 L214.0,441.1 L217.0,441.8 L220.0,441.6 L221.0,440.7 L221,459 Z" fill="rgb(0,42,243)"/>
<path d="M43,459 L43.0,445.3 L46.0,444.2 L49.0,443.8 L52.0,444.4 L55.0,445.1 L58.0,444.5 L61.0,444.6 L64.0,444.9 L67.0,445.2 L70.0,444.8 L73.0,444.6 L76.0,444.3 L79.0,444.6 L82.0,445.0 L85.0,445.6 L88.0,445.5 L91.0,445.1 L94.0,444.7 L97.0,444.1 L100.0,443.4 L103.0,443.4 L106.0,443.4 L109.0,443.3 L112.0,443.9 L115.0,444.0 L118.0,444.1 L121.0,443.3 L124.0,442.9 L127.0,442.4 L130.0,442.5 L133.0,443.1 L136.0,443.8 L139.0,444.4 L142.0,444.1 L145.0,444.0 L148.0,444.1 L151.0,444.8 L154.0,445.1 L157.0,445.0 L160.0,445.2 L163.0,444.7 L166.0,445.1 L169.0,444.9 L172.0,445.0 L175.0,445.0 L178.0,444.9 L181.0,445.3 L184.0,444.9 L187.0,444.6 L190.0,444.8 L193.0,444.5 L196.0,444.8 L199.0,444.7 L202.0,445.2 L205.0,445.1 L208.0,445.2 L211.0,444.6 L214.0,444.2 L217.0,444.2 L220.0,444.5 L221.0,443.9 L221,459 Z" fill="rgb(0,28,240)"/>
<path d="M43,459 L43.0,448.7 L46.0,448.0 L49.0,448.2 L52.0,448.8 L55.0,449.5 L58.0,448.9 L61.0,448.7 L64.0,448.6 L67.0,448.8 L70.0,448.2 L73.0,448.2 L76.0,447.7 L79.0,448.1 L82.0,448.6 L85.0,449.2 L88.0,449.0 L91.0,448.8 L94.0,448.1 L97.0,447.9 L100.0,447.2 L103.0,447.5 L106.0,447.8 L109.0,448.2 L112.0,448.2 L115.0,448.4 L118.0,448.6 L121.0,447.9 L124.0,447.1 L127.0,447.3 L130.0,447.3 L133.0,447.5 L136.0,448.0 L139.0,448.5 L142.0,448.1 L145.0,448.3 L148.0,448.7 L151.0,449.3 L154.0,449.2 L157.0,449.3 L160.0,449.3 L163.0,448.9 L166.0,449.2 L169.0,449.4 L172.0,448.9 L175.0,448.5 L178.0,448.1 L181.0,448.1 L184.0,448.4 L187.0,448.2 L190.0,448.8 L193.0,448.9 L196.0,449.2 L199.0,448.3 L202.0,448.7 L205.0,448.5 L208.0,448.1 L211.0,447.7 L214.0,448.0 L217.0,448.4 L220.0,448.5 L221.0,448.1 L221,459 Z" fill="rgb(0,19,238)"/>
<path d="M43,459 L43.0,452.5 L46.0,451.7 L49.0,451.7 L52.0,452.2 L55.0,452.6 L58.0,452.4 L61.0,452.1 L64.0,452.2 L67.0,452.8 L70.0,452.6 L73.0,452.2 L76.0,452.1 L79.0,452.4 L82.0,452.9 L85.0,453.3 L88.0,453.5 L91.0,453.1 L94.0,452.7 L97.0,452.0 L100.0,451.5 L103.0,451.4 L106.0,451.6 L109.0,451.7 L112.0,451.9 L115.0,452.1 L118.0,452.5 L121.0,451.8 L124.0,451.0 L127.0,451.1 L130.0,451.3 L133.0,451.7 L136.0,452.1 L139.0,453.0 L142.0,452.4 L145.0,452.2 L148.0,452.1 L151.0,452.6 L154.0,452.3 L157.0,452.5 L160.0,452.6 L163.0,452.3 L166.0,452.7 L169.0,452.9 L172.0,452.9 L175.0,452.6 L178.0,452.1 L181.0,452.7 L184.0,452.8 L187.0,452.4 L190.0,452.8 L193.0,452.8 L196.0,453.0 L199.0,452.4 L202.0,452.8 L205.0,453.1 L208.0,452.9 L211.0,452.7 L214.0,452.6 L217.0,452.8 L220.0,452.4 L221.0,452.0 L221,459 Z" fill="rgb(0,13,237)"/>
<defs><radialGradient id="ge_b0"><stop offset="0" stop-color="#ff0000" stop-opacity="0.45"/><stop offset="0.6" stop-color="#ff0000" stop-opacity="0.27"/><stop offset="1" stop-color="#ff0000" stop-opacity="0"/></radialGradient></defs>
<ellipse cx="185.0" cy="296.0" rx="75.0" ry="14.0" fill="url(#ge_b0)"/>
</svg>
<path d="M43.0,279.0 L47.5,281.8 L52.0,282.1 L56.5,280.8 L61.0,280.5 L65.5,279.6 L70.0,278.4 L74.5,278.8 L79.0,277.2 L83.5,279.3 L88.0,278.1 L92.5,274.0 L97.0,273.6 L101.5,273.7 L106.0,273.0 L110.5,273.3 L115.0,274.0 L119.5,273.0 L124.0,273.4 L128.5,271.3 L133.0,274.6 L137.5,272.2 L142.0,269.9 L146.5,267.6 L151.0,266.3 L155.5,270.5 L160.0,268.1 L164.5,264.6 L169.0,271.0 L173.5,271.4 L178.0,272.0 L182.5,266.4 L187.0,269.3 L191.5,272.3 L196.0,271.9 L200.5,272.0 L205.0,272.9 L209.5,270.5 L214.0,267.3 L218.5,267.5" fill="none" stroke="#222" stroke-width="0.7" stroke-dasharray="1,1.4" opacity="0.75"/>
<path d="M43.0,313.5 L47.5,311.2 L52.0,310.4 L56.5,309.6 L61.0,310.9 L65.5,310.8 L70.0,311.3 L74.5,310.8 L79.0,310.9 L83.5,312.1 L88.0,311.7 L92.5,313.0 L97.0,312.5 L101.5,313.2 L106.0,312.1 L110.5,312.4 L115.0,313.1 L119.5,312.1 L124.0,312.8 L128.5,312.0 L133.0,312.2 L137.5,312.2 L142.0,312.9 L146.5,314.3 L151.0,314.7 L155.5,312.3 L160.0,311.7 L164.5,312.3 L169.0,312.9 L173.5,313.6 L178.0,314.5 L182.5,313.5 L187.0,313.6 L191.5,311.7 L196.0,312.5 L200.5,313.8 L205.0,314.7 L209.5,313.6 L214.0,313.7 L218.5,313.7" fill="none" stroke="#222" stroke-width="0.7" stroke-dasharray="1,1.4" opacity="0.75"/>
<path d="M43.0,365.3 L47.5,365.9 L52.0,364.5 L56.5,365.0 L61.0,365.3 L65.5,365.1 L70.0,363.8 L74.5,364.8 L79.0,364.0 L83.5,363.3 L88.0,364.2 L92.5,363.6 L97.0,364.1 L101.5,362.8 L106.0,363.7 L110.5,362.8 L115.0,362.3 L119.5,362.3 L124.0,363.0 L128.5,363.1 L133.0,362.8 L137.5,362.7 L142.0,362.4 L146.5,362.2 L151.0,362.3 L155.5,361.9 L160.0,362.0 L164.5,362.1 L169.0,363.1 L173.5,363.2 L178.0,363.6 L182.5,364.7 L187.0,363.2 L191.5,363.6 L196.0,362.5 L200.5,362.9 L205.0,363.3 L209.5,363.4 L214.0,363.8 L218.5,364.3" fill="none" stroke="#222" stroke-width="0.7" stroke-dasharray="1,1.4" opacity="0.75"/>
<path d="M43.0,424.1 L47.5,422.5 L52.0,421.9 L56.5,421.1 L61.0,420.7 L65.5,419.7 L70.0,420.2 L74.5,420.1 L79.0,418.5 L83.5,418.3 L88.0,417.1 L92.5,415.8 L97.0,413.9 L101.5,411.0 L106.0,409.2 L110.5,409.0 L115.0,408.8 L119.5,407.1 L124.0,406.7 L128.5,407.8 L133.0,406.5 L137.5,406.4 L142.0,406.7 L146.5,406.0 L151.0,407.3 L155.5,406.0 L160.0,406.1 L164.5,406.7 L169.0,407.7 L173.5,412.2 L178.0,416.3 L182.5,413.5 L187.0,413.1 L191.5,410.4 L196.0,409.5 L200.5,407.9 L205.0,409.3 L209.5,411.5 L214.0,413.0 L218.5,411.1" fill="none" stroke="#222" stroke-width="0.7" stroke-dasharray="1,1.4" opacity="0.75"/>
<path d="M89.0,410.9 l-1.6,-5.2 l0.9,0 l0,-3.4 l1.4,0 l0,3.4 l0.9,0 z" fill="#111"/>
<path d="M43.50,4.50 H221.50" stroke="#444" stroke-width="1.10" stroke-linecap="square"/>
<path d="M43.50,199.50 H221.50" stroke="#1a1a1a" stroke-width="1.10" stroke-linecap="square"/>
<path d="M43.50,4.50 V199.50" stroke="#444" stroke-width="1.10" stroke-linecap="square"/>
<path d="M221.50,4.50 V199.50" stroke="#1a1a1a" stroke-width="1.10" stroke-linecap="square"/>
<path d="M43.50,262.50 H221.50" stroke="#444" stroke-width="1.10" stroke-linecap="square"/>
<path d="M43.50,457.50 H221.50" stroke="#1a1a1a" stroke-width="1.10" stroke-linecap="square"/>
<path d="M43.50,262.50 V457.50" stroke="#444" stroke-width="1.10" stroke-linecap="square"/>
<path d="M221.50,262.50 V457.50" stroke="#1a1a1a" stroke-width="1.10" stroke-linecap="square"/>
<path d="M43,24.2 h2.5 M221,24.2 h-2.5" stroke="#111" stroke-width="1"/>
<path d="M43,89.0 h2.5 M221,89.0 h-2.5" stroke="#111" stroke-width="1"/>
<path d="M43,153.7 h2.5 M221,153.7 h-2.5" stroke="#111" stroke-width="1"/>
<path d="M43,281.6 h2.5 M221,281.6 h-2.5" stroke="#111" stroke-width="1"/>
<path d="M43,346.9 h2.5 M221,346.9 h-2.5" stroke="#111" stroke-width="1"/>
<path d="M43,412.2 h2.5 M221,412.2 h-2.5" stroke="#111" stroke-width="1"/>
<path d="M43,56.6 h3 M221,56.6 h-3" stroke="#111" stroke-width="1"/>
<text x="40.00" y="59.90" font-size="9.60" text-anchor="end" fill="#222" font-weight="normal" >7730</text>
<text x="225.00" y="59.90" font-size="9.60" text-anchor="start" fill="#222" font-weight="normal" >7730</text>
<path d="M43,121.3 h3 M221,121.3 h-3" stroke="#111" stroke-width="1"/>
<text x="40.00" y="124.60" font-size="9.60" text-anchor="end" fill="#222" font-weight="normal" >7720</text>
<text x="225.00" y="124.60" font-size="9.60" text-anchor="start" fill="#222" font-weight="normal" >7720</text>
<path d="M43,186.2 h3 M221,186.2 h-3" stroke="#111" stroke-width="1"/>
<text x="40.00" y="189.50" font-size="9.60" text-anchor="end" fill="#222" font-weight="normal" >7710</text>
<text x="225.00" y="189.50" font-size="9.60" text-anchor="start" fill="#222" font-weight="normal" >7710</text>
<path d="M43,314.2 h3 M221,314.2 h-3" stroke="#111" stroke-width="1"/>
<text x="40.00" y="317.50" font-size="9.60" text-anchor="end" fill="#222" font-weight="normal" >7130</text>
<text x="225.00" y="317.50" font-size="9.60" text-anchor="start" fill="#222" font-weight="normal" >7130</text>
<path d="M43,379.5 h3 M221,379.5 h-3" stroke="#111" stroke-width="1"/>
<text x="40.00" y="382.80" font-size="9.60" text-anchor="end" fill="#222" font-weight="normal" >7120</text>
<text x="225.00" y="382.80" font-size="9.60" text-anchor="start" fill="#222" font-weight="normal" >7120</text>
<path d="M43,444.8 h3 M221,444.8 h-3" stroke="#111" stroke-width="1"/>
<text x="40.00" y="448.10" font-size="9.60" text-anchor="end" fill="#222" font-weight="normal" >7110</text>
<text x="225.00" y="448.10" font-size="9.60" text-anchor="start" fill="#222" font-weight="normal" >7110</text>
<path d="M62.7,199 v-1.6 M108.3,199 v-1.6 M153.5,199 v-1.6 M198.8,199 v-1.6" stroke="#111" stroke-width="1"/>
<text x="0" y="0" font-size="9.60" text-anchor="middle" fill="#222" transform="translate(8.50,102.50) rotate(-90)">Energy (eV)</text>
<text x="0" y="0" font-size="9.60" text-anchor="middle" fill="#222" transform="translate(8.50,360.50) rotate(-90)">Energy (eV)</text>
<text x="126.50" y="476.00" font-size="9.60" text-anchor="middle" fill="#222" font-weight="normal" >Time (h)</text>
<path d="M43.50,216.50 H221.50" stroke="#222" stroke-width="1.10" stroke-linecap="square"/>
<path d="M43.50,248.70 H221.50" stroke="#222" stroke-width="1.10" stroke-linecap="square"/>
<path d="M43.50,216.50 V248.70" stroke="#222" stroke-width="1.10" stroke-linecap="square"/>
<path d="M221.50,216.50 V248.70" stroke="#222" stroke-width="1.10" stroke-linecap="square"/>
<path d="M87.7,217 v3 M87.7,248 v-3" stroke="#444" stroke-width="1"/>
<path d="M132.4,217 v3 M132.4,248 v-3" stroke="#444" stroke-width="1"/>
<path d="M176.8,217 v3 M176.8,248 v-3" stroke="#444" stroke-width="1"/>
<path d="M43,224 h3 M43,242.7 h3" stroke="#111" stroke-width="1"/>
<text x="40.00" y="227.30" font-size="9.60" text-anchor="end" fill="#222" font-weight="normal" >2</text>
<text x="40.00" y="246.00" font-size="9.60" text-anchor="end" fill="#222" font-weight="normal" >1</text>
<path d="M44,236 L45.5,239.8 L87.3,239 L88.5,225.3 L131.8,225.5 L132.8,239.7 L176.2,239.4 L177.3,225.3 L221,225.6" fill="none" stroke="#111" stroke-width="1.3"/>
<text x="64.40" y="228.50" font-size="9.60" text-anchor="middle" fill="#eea676" font-weight="normal" >1D</text>
<text x="108.80" y="243.80" font-size="9.60" text-anchor="middle" fill="#4db5ee" font-weight="normal" >1C</text>
<text x="154.60" y="228.50" font-size="9.60" text-anchor="middle" fill="#ec6f70" font-weight="normal" >2D</text>
<text x="200.30" y="243.80" font-size="9.60" text-anchor="middle" fill="#6f7de8" font-weight="normal" >2C</text>
<text x="0" y="0" font-size="9.60" text-anchor="middle" fill="#222" transform="translate(29.00,233.00) rotate(-90)">Voltage (V)</text>
<text x="0.30" y="11.00" font-size="15.00" text-anchor="start" fill="#000" font-weight="bold" >a</text>
<text x="259.80" y="10.50" font-size="15.00" text-anchor="start" fill="#000" font-weight="bold" >b</text>
<text x="546.20" y="11.00" font-size="15.00" text-anchor="start" fill="#000" font-weight="bold" >c</text>
<text x="-0.70" y="220.20" font-size="14.00" text-anchor="start" fill="#000" font-weight="bold" >d</text>
<text x="-0.50" y="267.60" font-size="15.00" text-anchor="start" fill="#000" font-weight="bold" >e</text>
<text x="259.50" y="261.70" font-size="15.50" text-anchor="start" fill="#000" font-weight="bold" >f</text>
<text x="546.30" y="261.50" font-size="15.00" text-anchor="start" fill="#000" font-weight="bold" >g</text>
<path d="M293.10,5.00 H536.00" stroke="#7a7a7a" stroke-width="1.70" stroke-linecap="square"/>
<path d="M293.10,199.00 H536.00" stroke="#444" stroke-width="1.30" stroke-linecap="square"/>
<path d="M293.10,5.00 V199.00" stroke="#7a7a7a" stroke-width="1.80" stroke-linecap="square"/>
<path d="M536.00,5.00 V199.00" stroke="#858585" stroke-width="1.90" stroke-linecap="square"/>
<path d="M293.5,192.1 h2.5" stroke="#222" stroke-width="1"/>
<path d="M293.5,171.3 h2.5" stroke="#222" stroke-width="1"/>
<text x="289.50" y="195.40" font-size="9.60" text-anchor="end" fill="#222" font-weight="normal" >0.0</text>
<path d="M293.5,150.6 h2.5" stroke="#222" stroke-width="1"/>
<path d="M293.5,129.8 h2.5" stroke="#222" stroke-width="1"/>
<text x="289.50" y="153.85" font-size="9.60" text-anchor="end" fill="#222" font-weight="normal" >0.3</text>
<path d="M293.5,109.0 h2.5" stroke="#222" stroke-width="1"/>
<path d="M293.5,88.2 h2.5" stroke="#222" stroke-width="1"/>
<text x="289.50" y="112.30" font-size="9.60" text-anchor="end" fill="#222" font-weight="normal" >0.6</text>
<path d="M293.5,67.5 h2.5" stroke="#222" stroke-width="1"/>
<path d="M293.5,46.7 h2.5" stroke="#222" stroke-width="1"/>
<text x="289.50" y="70.75" font-size="9.60" text-anchor="end" fill="#222" font-weight="normal" >0.9</text>
<path d="M293.5,25.9 h2.5" stroke="#222" stroke-width="1"/>
<text x="289.50" y="29.20" font-size="9.60" text-anchor="end" fill="#222" font-weight="normal" >1.2</text>
<path d="M293.5,199.0 v-3" stroke="#333" stroke-width="1"/>
<text x="293.50" y="209.50" font-size="9.60" text-anchor="middle" fill="#222" font-weight="normal" >7700</text>
<path d="M337.5,199.0 v-3" stroke="#333" stroke-width="1"/>
<text x="337.50" y="209.50" font-size="9.60" text-anchor="middle" fill="#222" font-weight="normal" >7710</text>
<path d="M381.5,199.0 v-3" stroke="#333" stroke-width="1"/>
<text x="381.50" y="209.50" font-size="9.60" text-anchor="middle" fill="#222" font-weight="normal" >7720</text>
<path d="M425.5,199.0 v-3" stroke="#333" stroke-width="1"/>
<text x="425.50" y="209.50" font-size="9.60" text-anchor="middle" fill="#222" font-weight="normal" >7730</text>
<path d="M469.5,199.0 v-3" stroke="#333" stroke-width="1"/>
<text x="469.50" y="209.50" font-size="9.60" text-anchor="middle" fill="#222" font-weight="normal" >7740</text>
<path d="M513.5,199.0 v-3" stroke="#333" stroke-width="1"/>
<text x="513.50" y="209.50" font-size="9.60" text-anchor="middle" fill="#222" font-weight="normal" >7750</text>
<path d="M315.5,199.0 v-2" stroke="#333" stroke-width="1"/>
<path d="M359.5,199.0 v-2" stroke="#333" stroke-width="1"/>
<path d="M403.5,199.0 v-2" stroke="#333" stroke-width="1"/>
<path d="M447.5,199.0 v-2" stroke="#333" stroke-width="1"/>
<path d="M491.5,199.0 v-2" stroke="#333" stroke-width="1"/>
<text x="0" y="0" font-size="9.60" text-anchor="middle" fill="#222" transform="translate(265.10,96.80) rotate(-90)">Normalized absorption (a.u.)</text>
<text x="414.50" y="225.30" font-size="9.40" text-anchor="middle" fill="#222" font-weight="normal" >Energy (eV)</text>
<path d="M293.50,255.00 H536.40" stroke="#858585" stroke-width="1.90" stroke-linecap="square"/>
<path d="M293.50,449.00 H536.40" stroke="#333" stroke-width="1.30" stroke-linecap="square"/>
<path d="M293.50,255.00 V449.00" stroke="#333" stroke-width="1.30" stroke-linecap="square"/>
<path d="M536.40,255.00 V449.00" stroke="#333" stroke-width="1.30" stroke-linecap="square"/>
<path d="M293.5,442.1 h2.5" stroke="#222" stroke-width="1"/>
<path d="M293.5,421.3 h2.5" stroke="#222" stroke-width="1"/>
<text x="289.50" y="445.40" font-size="9.60" text-anchor="end" fill="#222" font-weight="normal" >0.0</text>
<path d="M293.5,400.6 h2.5" stroke="#222" stroke-width="1"/>
<path d="M293.5,379.8 h2.5" stroke="#222" stroke-width="1"/>
<text x="289.50" y="403.85" font-size="9.60" text-anchor="end" fill="#222" font-weight="normal" >0.3</text>
<path d="M293.5,359.0 h2.5" stroke="#222" stroke-width="1"/>
<path d="M293.5,338.2 h2.5" stroke="#222" stroke-width="1"/>
<text x="289.50" y="362.30" font-size="9.60" text-anchor="end" fill="#222" font-weight="normal" >0.6</text>
<path d="M293.5,317.4 h2.5" stroke="#222" stroke-width="1"/>
<path d="M293.5,296.7 h2.5" stroke="#222" stroke-width="1"/>
<text x="289.50" y="320.75" font-size="9.60" text-anchor="end" fill="#222" font-weight="normal" >0.9</text>
<path d="M293.5,275.9 h2.5" stroke="#222" stroke-width="1"/>
<text x="289.50" y="279.20" font-size="9.60" text-anchor="end" fill="#222" font-weight="normal" >1.2</text>
<path d="M315.6,449.0 v-3" stroke="#333" stroke-width="1"/>
<text x="315.60" y="459.50" font-size="9.60" text-anchor="middle" fill="#222" font-weight="normal" >7110</text>
<path d="M359.8,449.0 v-3" stroke="#333" stroke-width="1"/>
<text x="359.75" y="459.50" font-size="9.60" text-anchor="middle" fill="#222" font-weight="normal" >7120</text>
<path d="M403.9,449.0 v-3" stroke="#333" stroke-width="1"/>
<text x="403.90" y="459.50" font-size="9.60" text-anchor="middle" fill="#222" font-weight="normal" >7130</text>
<path d="M448.1,449.0 v-3" stroke="#333" stroke-width="1"/>
<text x="448.05" y="459.50" font-size="9.60" text-anchor="middle" fill="#222" font-weight="normal" >7140</text>
<path d="M492.2,449.0 v-3" stroke="#333" stroke-width="1"/>
<text x="492.20" y="459.50" font-size="9.60" text-anchor="middle" fill="#222" font-weight="normal" >7150</text>
<path d="M536.4,449.0 v-3" stroke="#333" stroke-width="1"/>
<text x="536.35" y="459.50" font-size="9.60" text-anchor="middle" fill="#222" font-weight="normal" >7160</text>
<path d="M337.7,449.0 v-2" stroke="#333" stroke-width="1"/>
<path d="M381.8,449.0 v-2" stroke="#333" stroke-width="1"/>
<path d="M426.0,449.0 v-2" stroke="#333" stroke-width="1"/>
<path d="M470.1,449.0 v-2" stroke="#333" stroke-width="1"/>
<path d="M514.3,449.0 v-2" stroke="#333" stroke-width="1"/>
<text x="0" y="0" font-size="9.60" text-anchor="middle" fill="#222" transform="translate(265.10,346.80) rotate(-90)">Normalized absorption (a.u.)</text>
<text x="415.00" y="476.00" font-size="9.60" text-anchor="middle" fill="#222" font-weight="normal" >Energy (eV)</text>
<path d="M293.50,191.10 C296.87,191.02 308.27,191.12 313.70,190.60 C319.13,190.08 322.65,189.30 326.10,188.00 C329.55,186.70 331.63,185.22 334.40,182.80 C337.17,180.38 339.25,176.60 342.70,173.50 C346.15,170.40 351.30,167.13 355.10,164.20 C358.90,161.27 362.05,160.38 365.50,155.90 C368.95,151.42 372.70,143.85 375.80,137.30 C378.90,130.75 381.68,122.82 384.10,116.60 C386.52,110.38 387.63,108.72 390.30,100.00 C392.97,91.28 396.78,74.60 400.10,64.30 C403.42,54.00 407.18,44.90 410.20,38.20 C413.22,31.50 415.60,27.38 418.20,24.10 C420.80,20.82 423.45,18.83 425.80,18.50 C428.15,18.17 429.88,19.83 432.30,22.10 C434.72,24.37 437.63,28.92 440.30,32.10 C442.97,35.28 445.02,38.35 448.30,41.20 C451.58,44.05 455.38,47.57 460.00,49.20 C464.62,50.83 470.67,50.95 476.00,51.00 C481.33,51.05 487.00,49.50 492.00,49.50 C497.00,49.50 501.33,50.00 506.00,51.00 C510.67,52.00 515.00,54.08 520.00,55.50 C525.00,56.92 533.33,58.83 536.00,59.50" fill="none" stroke="#1a1a1a" stroke-width="1.25"/>
<path d="M293.50,191.16 C296.87,191.09 308.16,191.20 313.70,190.72 C319.24,190.24 323.08,189.72 326.73,188.30 C330.38,186.88 332.66,184.53 335.63,182.17 C338.60,179.81 341.00,176.81 344.56,174.13 C348.11,171.44 352.95,169.20 356.96,166.06 C360.96,162.92 364.93,160.48 368.59,155.27 C372.25,150.06 375.82,142.09 378.92,134.81 C382.02,127.53 384.50,119.21 387.19,111.62 C389.88,104.03 392.08,98.68 395.04,89.29 C398.00,79.90 401.75,64.89 404.93,55.27 C408.11,45.65 411.39,37.42 414.10,31.57 C416.81,25.72 418.77,22.52 421.20,20.17 C423.62,17.82 426.20,16.66 428.65,17.48 C431.10,18.30 433.25,22.06 435.90,25.10 C438.55,28.14 441.88,32.70 444.53,35.73 C447.18,38.76 448.43,40.99 451.81,43.30 C455.19,45.61 459.97,48.44 464.80,49.59 C469.63,50.74 475.57,50.16 480.80,50.19 C486.03,50.21 491.30,49.34 496.20,49.74 C501.10,50.14 505.43,51.28 510.20,52.59 C514.97,53.90 520.50,56.30 524.80,57.60 C529.10,58.90 534.13,59.93 536.00,60.40" fill="none" stroke="#f7b58a" stroke-width="1.25"/>
<path d="M293.50,191.23 C296.87,191.17 308.04,191.29 313.70,190.86 C319.36,190.43 323.57,190.22 327.47,188.65 C331.36,187.08 333.85,183.73 337.06,181.44 C340.28,179.14 343.05,177.07 346.73,174.87 C350.41,172.66 354.89,171.62 359.13,168.23 C363.37,164.84 368.29,160.59 372.19,154.54 C376.10,148.48 379.46,140.03 382.56,131.91 C385.66,123.78 387.79,115.00 390.80,105.81 C393.80,96.62 397.28,86.97 400.57,76.80 C403.87,66.62 407.55,53.56 410.57,44.73 C413.58,35.91 416.29,28.69 418.65,23.84 C421.01,18.98 422.48,16.84 424.70,15.59 C426.92,14.33 429.41,14.12 431.98,16.29 C434.54,18.46 437.19,24.65 440.10,28.60 C443.02,32.55 446.83,37.11 449.47,39.97 C452.10,42.82 452.42,44.07 455.90,45.75 C459.39,47.43 465.32,49.46 470.40,50.05 C475.48,50.63 481.28,49.25 486.40,49.24 C491.52,49.24 496.32,49.15 501.10,50.02 C505.88,50.89 510.22,52.77 515.10,54.44 C519.98,56.12 526.92,58.88 530.40,60.05 C533.88,61.22 535.07,61.22 536.00,61.45" fill="none" stroke="#62c4f6" stroke-width="1.25"/>
<path d="M293.50,191.26 C296.87,191.20 307.99,191.33 313.70,190.92 C319.41,190.51 323.78,190.43 327.78,188.80 C331.78,187.17 334.37,183.39 337.68,181.12 C340.99,178.85 343.93,177.17 347.66,175.18 C351.39,173.19 355.71,172.65 360.06,169.16 C364.41,165.67 369.73,160.64 373.74,154.22 C377.75,147.80 381.02,139.14 384.12,130.66 C387.22,122.18 389.20,113.19 392.34,103.32 C395.48,93.45 399.50,81.96 402.94,71.44 C406.38,60.92 410.04,48.71 412.98,40.22 C415.92,31.73 418.40,24.95 420.60,20.52 C422.80,16.09 424.07,14.41 426.20,13.62 C428.33,12.83 430.78,13.03 433.40,15.78 C436.02,18.53 438.87,25.52 441.90,30.10 C444.93,34.68 448.95,40.25 451.58,43.28 C454.21,46.31 454.12,46.89 457.66,48.30 C461.20,49.71 467.61,51.40 472.80,51.74 C477.99,52.08 483.73,50.36 488.80,50.34 C493.87,50.32 498.47,50.32 503.20,51.64 C507.93,52.96 512.27,56.16 517.20,58.24 C522.13,60.32 529.67,62.99 532.80,64.10 C535.93,65.21 535.47,64.77 536.00,64.90" fill="none" stroke="#f27f80" stroke-width="1.25"/>
<path d="M293.50,191.30 C296.87,191.25 307.92,191.38 313.70,191.00 C319.48,190.62 324.07,190.72 328.20,189.00 C332.33,187.28 335.05,182.93 338.50,180.70 C341.95,178.47 345.10,177.32 348.90,175.60 C352.70,173.88 356.82,174.03 361.30,170.40 C365.78,166.77 371.65,160.70 375.80,153.80 C379.95,146.90 383.10,137.97 386.20,129.00 C389.30,120.03 391.08,110.78 394.40,100.00 C397.72,89.22 402.47,75.27 406.10,64.30 C409.73,53.33 413.35,42.23 416.20,34.20 C419.05,26.17 421.20,19.97 423.20,16.10 C425.20,12.23 426.18,11.17 428.20,11.00 C430.22,10.83 432.62,11.58 435.30,15.10 C437.98,18.62 441.12,27.25 444.30,32.10 C447.48,36.95 451.78,41.52 454.40,44.20 C457.02,46.88 456.40,47.15 460.00,48.20 C463.60,49.25 470.67,50.48 476.00,50.50 C481.33,50.52 487.00,48.33 492.00,48.30 C497.00,48.27 501.33,48.97 506.00,50.30 C510.67,51.63 515.00,54.27 520.00,56.30 C525.00,58.33 533.33,61.47 536.00,62.50 C538.67,63.53 536.00,62.50 536.00,62.50" fill="none" stroke="#7f8cf2" stroke-width="1.25"/>
<path d="M293.50,441.30 C295.72,441.18 303.05,441.18 306.80,440.60 C310.55,440.02 313.32,439.42 316.00,437.80 C318.68,436.18 320.40,433.58 322.90,430.90 C325.40,428.22 327.93,423.80 331.00,421.70 C334.07,419.60 338.05,419.83 341.30,418.30 C344.55,416.77 347.43,415.38 350.50,412.50 C353.57,409.62 356.62,406.18 359.70,401.00 C362.78,395.82 365.92,388.30 369.00,381.40 C372.08,374.50 375.00,369.05 378.20,359.60 C381.40,350.15 385.28,334.60 388.20,324.70 C391.12,314.80 393.20,307.12 395.70,300.20 C398.20,293.28 401.00,287.12 403.20,283.20 C405.40,279.28 407.17,278.27 408.90,276.70 C410.63,275.13 412.03,274.22 413.60,273.80 C415.17,273.38 416.57,273.57 418.30,274.20 C420.03,274.83 421.80,275.93 424.00,277.60 C426.20,279.27 428.37,281.85 431.50,284.20 C434.63,286.55 439.67,289.98 442.80,291.70 C445.93,293.42 446.80,293.23 450.30,294.50 C453.80,295.77 459.35,298.13 463.80,299.30 C468.25,300.47 472.62,300.90 477.00,301.50 C481.38,302.10 486.45,302.17 490.10,302.90 C493.75,303.63 494.98,304.43 498.90,305.90 C502.82,307.37 507.42,309.52 513.60,311.70 C519.78,313.88 532.27,317.78 536.00,319.00" fill="none" stroke="#1a1a1a" stroke-width="1.25"/>
<path d="M293.50,441.70 C295.72,441.62 303.05,441.73 306.80,441.20 C310.55,440.67 313.12,440.03 316.00,438.50 C318.88,436.97 321.58,434.42 324.10,432.00 C326.62,429.58 328.20,425.72 331.10,424.00 C334.00,422.28 338.05,423.23 341.50,421.70 C344.95,420.17 348.55,418.07 351.80,414.80 C355.05,411.53 357.92,407.67 361.00,402.10 C364.08,396.53 366.83,391.75 370.30,381.40 C373.77,371.05 378.67,350.72 381.80,340.00 C384.93,329.28 386.63,324.98 389.10,317.10 C391.57,309.22 393.93,300.38 396.60,292.70 C399.27,285.02 402.90,276.03 405.10,271.00 C407.30,265.97 408.07,264.70 409.80,262.50 C411.53,260.30 414.05,258.62 415.50,257.80 C416.95,256.98 417.42,257.28 418.50,257.60 C419.58,257.92 420.47,258.25 422.00,259.70 C423.53,261.15 426.12,264.25 427.70,266.30 C429.28,268.35 428.98,269.47 431.50,272.00 C434.02,274.53 439.03,278.82 442.80,281.50 C446.57,284.18 450.60,286.12 454.10,288.10 C457.60,290.08 459.98,292.57 463.80,293.40 C467.62,294.23 473.10,292.90 477.00,293.10 C480.90,293.30 483.30,293.37 487.20,294.60 C491.10,295.83 496.00,298.43 500.40,300.50 C504.80,302.57 507.67,304.57 513.60,307.00 C519.53,309.43 532.27,313.75 536.00,315.10" fill="none" stroke="#f7b58a" stroke-width="1.25"/>
<path d="M293.50,441.30 C295.72,441.22 303.05,441.33 306.80,440.80 C310.55,440.27 313.12,439.63 316.00,438.10 C318.88,436.57 321.48,434.02 324.10,431.60 C326.72,429.18 328.70,425.32 331.70,423.60 C334.70,421.88 338.65,422.83 342.10,421.30 C345.55,419.77 349.15,417.67 352.40,414.40 C355.65,411.13 358.52,407.27 361.60,401.70 C364.68,396.13 367.43,391.35 370.90,381.00 C374.37,370.65 379.27,350.32 382.40,339.60 C385.53,328.88 387.23,324.58 389.70,316.70 C392.17,308.82 394.53,299.98 397.20,292.30 C399.87,284.62 403.50,275.63 405.70,270.60 C407.90,265.57 408.77,264.30 410.40,262.10 C412.03,259.90 414.15,258.22 415.50,257.40 C416.85,256.58 417.42,256.88 418.50,257.20 C419.58,257.52 420.47,257.85 422.00,259.30 C423.53,260.75 426.12,263.85 427.70,265.90 C429.28,267.95 428.98,268.93 431.50,271.60 C434.02,274.27 439.03,279.08 442.80,281.90 C446.57,284.72 450.60,286.52 454.10,288.50 C457.60,290.48 459.98,292.68 463.80,293.80 C467.62,294.92 473.10,294.72 477.00,295.20 C480.90,295.68 483.30,295.47 487.20,296.70 C491.10,297.93 496.00,300.53 500.40,302.60 C504.80,304.67 507.67,306.67 513.60,309.10 C519.53,311.53 532.27,315.85 536.00,317.20" fill="none" stroke="#62c4f6" stroke-width="1.25"/>
<path d="M293.50,442.50 C295.72,442.42 303.05,442.53 306.80,442.00 C310.55,441.47 313.12,440.83 316.00,439.30 C318.88,437.77 321.42,435.22 324.10,432.80 C326.78,430.38 329.03,426.52 332.10,424.80 C335.17,423.08 339.05,424.03 342.50,422.50 C345.95,420.97 349.55,418.87 352.80,415.60 C356.05,412.33 358.92,408.47 362.00,402.90 C365.08,397.33 367.83,392.55 371.30,382.20 C374.77,371.85 379.67,351.52 382.80,340.80 C385.93,330.08 387.63,325.78 390.10,317.90 C392.57,310.02 394.93,301.10 397.60,293.50 C400.27,285.90 403.90,277.25 406.10,272.30 C408.30,267.35 409.23,266.00 410.80,263.80 C412.37,261.60 414.22,259.92 415.50,259.10 C416.78,258.28 417.42,258.58 418.50,258.90 C419.58,259.22 420.47,259.55 422.00,261.00 C423.53,262.45 426.12,265.55 427.70,267.60 C429.28,269.65 428.98,270.52 431.50,273.30 C434.02,276.08 439.03,281.37 442.80,284.30 C446.57,287.23 450.60,288.92 454.10,290.90 C457.60,292.88 459.98,295.08 463.80,296.20 C467.62,297.32 473.10,297.12 477.00,297.60 C480.90,298.08 483.30,297.87 487.20,299.10 C491.10,300.33 496.00,302.93 500.40,305.00 C504.80,307.07 507.67,309.07 513.60,311.50 C519.53,313.93 532.27,318.25 536.00,319.60" fill="none" stroke="#f27f80" stroke-width="1.25"/>
<path d="M293.50,441.70 C295.72,441.62 303.05,441.73 306.80,441.20 C310.55,440.67 313.12,440.03 316.00,438.50 C318.88,436.97 321.42,434.42 324.10,432.00 C326.78,429.58 329.03,425.72 332.10,424.00 C335.17,422.28 339.05,423.23 342.50,421.70 C345.95,420.17 349.55,418.07 352.80,414.80 C356.05,411.53 358.92,407.67 362.00,402.10 C365.08,396.53 367.83,391.75 371.30,381.40 C374.77,371.05 379.67,350.72 382.80,340.00 C385.93,329.28 387.63,324.98 390.10,317.10 C392.57,309.22 394.93,300.38 397.60,292.70 C400.27,285.02 403.90,276.03 406.10,271.00 C408.30,265.97 409.23,264.70 410.80,262.50 C412.37,260.30 414.22,258.62 415.50,257.80 C416.78,256.98 417.42,257.28 418.50,257.60 C419.58,257.92 420.47,258.25 422.00,259.70 C423.53,261.15 426.12,264.25 427.70,266.30 C429.28,268.35 428.98,269.33 431.50,272.00 C434.02,274.67 439.03,279.48 442.80,282.30 C446.57,285.12 450.60,286.92 454.10,288.90 C457.60,290.88 459.98,293.08 463.80,294.20 C467.62,295.32 473.10,295.12 477.00,295.60 C480.90,296.08 483.30,295.87 487.20,297.10 C491.10,298.33 496.00,300.93 500.40,303.00 C504.80,305.07 507.67,307.07 513.60,309.50 C519.53,311.93 532.27,316.25 536.00,317.60" fill="none" stroke="#7f8cf2" stroke-width="1.25"/>
<path d="M430.4,114.7 h19" stroke="#7f8cf2" stroke-width="1.4"/>
<text x="452.6" y="117.9" font-size="8.5" fill="#6f7de8">(Co,Fe)<tspan font-size="5.5" dy="2.2">3</tspan><tspan dy="-2.2">N_2C</tspan></text>
<path d="M430.4,130.4 h19" stroke="#f27f80" stroke-width="1.4"/>
<text x="452.6" y="133.6" font-size="8.5" fill="#ec6f70">(Co,Fe)<tspan font-size="5.5" dy="2.2">3</tspan><tspan dy="-2.2">N_2D</tspan></text>
<path d="M430.4,146.3 h19" stroke="#62c4f6" stroke-width="1.4"/>
<text x="452.6" y="149.5" font-size="8.5" fill="#4db5ee">(Co,Fe)<tspan font-size="5.5" dy="2.2">3</tspan><tspan dy="-2.2">N_1C</tspan></text>
<path d="M430.4,162.7 h19" stroke="#f7b58a" stroke-width="1.4"/>
<text x="452.6" y="165.9" font-size="8.5" fill="#eea676">(Co,Fe)<tspan font-size="5.5" dy="2.2">3</tspan><tspan dy="-2.2">N_1D</tspan></text>
<path d="M430.4,178.6 h19" stroke="#1a1a1a" stroke-width="1.4"/>
<text x="452.6" y="181.8" font-size="8.5" fill="#222">(Co,Fe)<tspan font-size="5.5" dy="2.2">3</tspan><tspan dy="-2.2">N_R</tspan></text>
<path d="M424.2,367.5 h19" stroke="#7f8cf2" stroke-width="1.4"/>
<text x="446.4" y="370.7" font-size="8.5" fill="#6f7de8">(Co,Fe)<tspan font-size="5.5" dy="2.2">3</tspan><tspan dy="-2.2">N_2C</tspan></text>
<path d="M424.2,383.1 h19" stroke="#f27f80" stroke-width="1.4"/>
<text x="446.4" y="386.3" font-size="8.5" fill="#ec6f70">(Co,Fe)<tspan font-size="5.5" dy="2.2">3</tspan><tspan dy="-2.2">N_2D</tspan></text>
<path d="M424.2,399.3 h19" stroke="#62c4f6" stroke-width="1.4"/>
<text x="446.4" y="402.5" font-size="8.5" fill="#4db5ee">(Co,Fe)<tspan font-size="5.5" dy="2.2">3</tspan><tspan dy="-2.2">N_1C</tspan></text>
<path d="M424.2,415.5 h19" stroke="#f7b58a" stroke-width="1.4"/>
<text x="446.4" y="418.7" font-size="8.5" fill="#eea676">(Co,Fe)<tspan font-size="5.5" dy="2.2">3</tspan><tspan dy="-2.2">N_1D</tspan></text>
<path d="M424.2,431.9 h19" stroke="#1a1a1a" stroke-width="1.4"/>
<text x="446.4" y="435.1" font-size="8.5" fill="#222">(Co,Fe)<tspan font-size="5.5" dy="2.2">3</tspan><tspan dy="-2.2">N_R</tspan></text>
<path d="M569.50,4.60 H684.40" stroke="#333" stroke-width="1.20" stroke-linecap="square"/>
<path d="M569.50,199.30 H684.40" stroke="#666" stroke-width="1.30" stroke-linecap="square"/>
<path d="M569.50,4.60 V199.30" stroke="#222" stroke-width="1.10" stroke-linecap="square"/>
<path d="M684.40,4.60 V199.30" stroke="#1a1a1a" stroke-width="1.30" stroke-linecap="square"/>
<path d="M588.6,199.0 v-3" stroke="#333" stroke-width="1"/>
<text x="588.60" y="209.50" font-size="9.60" text-anchor="middle" fill="#222" font-weight="normal" >1</text>
<path d="M627.0,199.0 v-3" stroke="#333" stroke-width="1"/>
<text x="627.00" y="209.50" font-size="9.60" text-anchor="middle" fill="#222" font-weight="normal" >2</text>
<path d="M665.3,199.0 v-3" stroke="#333" stroke-width="1"/>
<text x="665.30" y="209.50" font-size="9.60" text-anchor="middle" fill="#222" font-weight="normal" >3</text>
<path d="M607.8,199.0 v-2" stroke="#333" stroke-width="1"/>
<path d="M646.1,199.0 v-2" stroke="#333" stroke-width="1"/>
<text x="627" y="224.6" font-size="9.3" text-anchor="middle" fill="#222"><tspan font-style="italic">R</tspan> (Å)</text>
<g transform="translate(554,124.0) rotate(-90)" fill="#222"><path d="M1,-11.3 V0.6 M27.2,-11.3 V0.6" stroke="#333" stroke-width="0.9"/><text x="3.2" y="0" font-size="9.6" font-style="italic">χ</text><text x="9.5" y="0" font-size="9.6">(<tspan font-style="italic">R</tspan>)</text><text x="31" y="0" font-size="9.6">(Å<tspan font-size="6.5" dy="-3.6">−4</tspan><tspan dy="3.6">)</tspan></text></g>
<path d="M569.10,255.00 H684.40" stroke="#555" stroke-width="1.80" stroke-linecap="square"/>
<path d="M569.10,449.00 H684.40" stroke="#666" stroke-width="1.30" stroke-linecap="square"/>
<path d="M569.10,255.00 V449.00" stroke="#858585" stroke-width="1.80" stroke-linecap="square"/>
<path d="M684.40,255.00 V449.00" stroke="#111" stroke-width="1.40" stroke-linecap="square"/>
<path d="M588.6,449.0 v-3" stroke="#333" stroke-width="1"/>
<text x="588.60" y="459.50" font-size="9.60" text-anchor="middle" fill="#222" font-weight="normal" >1</text>
<path d="M627.0,449.0 v-3" stroke="#333" stroke-width="1"/>
<text x="627.00" y="459.50" font-size="9.60" text-anchor="middle" fill="#222" font-weight="normal" >2</text>
<path d="M665.3,449.0 v-3" stroke="#333" stroke-width="1"/>
<text x="665.30" y="459.50" font-size="9.60" text-anchor="middle" fill="#222" font-weight="normal" >3</text>
<path d="M607.8,449.0 v-2" stroke="#333" stroke-width="1"/>
<path d="M646.1,449.0 v-2" stroke="#333" stroke-width="1"/>
<text x="627" y="474.6" font-size="9.3" text-anchor="middle" fill="#222"><tspan font-style="italic">R</tspan> (Å)</text>
<g transform="translate(554,379.0) rotate(-90)" fill="#222"><path d="M1,-11.3 V0.6 M27.2,-11.3 V0.6" stroke="#333" stroke-width="0.9"/><text x="3.2" y="0" font-size="9.6" font-style="italic">χ</text><text x="9.5" y="0" font-size="9.6">(<tspan font-style="italic">R</tspan>)</text><text x="31" y="0" font-size="9.6">(Å<tspan font-size="6.5" dy="-3.6">−4</tspan><tspan dy="3.6">)</tspan></text></g>
<path d="M569.00,64.20 C569.83,64.72 572.00,67.80 574.00,67.30 C576.00,66.80 578.65,62.55 581.00,61.20 C583.35,59.85 585.75,62.72 588.10,59.20 C590.45,55.68 592.27,47.23 595.10,40.10 C597.93,32.97 602.42,19.07 605.10,16.40 C607.78,13.73 608.68,16.80 611.20,24.10 C613.72,31.40 617.20,56.52 620.20,60.20 C623.20,63.88 626.68,48.60 629.20,46.20 C631.72,43.80 632.95,46.30 635.30,45.80 C637.65,45.30 640.97,42.97 643.30,43.20 C645.63,43.43 646.78,43.87 649.30,47.20 C651.82,50.53 655.72,60.70 658.40,63.20 C661.08,65.70 662.57,61.42 665.40,62.20 C668.23,62.98 672.30,66.95 675.40,67.90 C678.50,68.85 682.57,67.90 684.00,67.90" fill="none" stroke="#7f8cf2" stroke-width="1.5"/>
<path d="M569.00,99.20 C569.58,99.50 570.58,101.57 572.50,101.00 C574.42,100.43 577.90,97.38 580.50,95.80 C583.10,94.22 585.67,95.42 588.10,91.50 C590.53,87.58 592.20,78.45 595.10,72.30 C598.00,66.15 602.65,55.95 605.50,54.60 C608.35,53.25 609.82,57.57 612.20,64.20 C614.58,70.83 616.80,92.38 619.80,94.40 C622.80,96.42 626.45,77.82 630.20,76.30 C633.95,74.78 639.12,83.30 642.30,85.30 C645.48,87.30 646.18,85.68 649.30,88.30 C652.42,90.92 657.50,99.37 661.00,101.00 C664.50,102.63 667.98,98.20 670.30,98.10 C672.62,98.00 672.62,100.42 674.90,100.40 C677.18,100.38 682.48,98.40 684.00,98.00" fill="none" stroke="#f27f80" stroke-width="1.5"/>
<path d="M569.00,129.60 C569.85,130.10 571.80,133.25 574.10,132.60 C576.40,131.95 580.20,126.85 582.80,125.70 C585.40,124.55 587.40,128.97 589.70,125.70 C592.00,122.43 593.98,112.05 596.60,106.10 C599.22,100.15 602.90,91.15 605.40,90.00 C607.90,88.85 609.30,92.87 611.60,99.20 C613.90,105.53 616.13,126.27 619.20,128.00 C622.27,129.73 626.48,112.10 630.00,109.60 C633.52,107.10 637.43,111.85 640.30,113.00 C643.17,114.15 644.32,113.82 647.20,116.50 C650.08,119.18 654.90,127.18 657.60,129.10 C660.30,131.02 661.28,127.80 663.40,128.00 C665.52,128.20 666.87,129.35 670.30,130.30 C673.73,131.25 681.72,133.13 684.00,133.70" fill="none" stroke="#62c4f6" stroke-width="1.5"/>
<path d="M569.00,162.50 C569.85,163.00 571.60,166.15 574.10,165.50 C576.60,164.85 581.40,159.60 584.00,158.60 C586.60,157.60 587.60,162.30 589.70,159.50 C591.80,156.70 593.98,147.32 596.60,141.80 C599.22,136.28 602.90,127.55 605.40,126.40 C607.90,125.25 609.30,128.88 611.60,134.90 C613.90,140.92 615.95,162.00 619.20,162.50 C622.45,163.00 627.38,140.20 631.10,137.90 C634.82,135.60 638.03,144.10 641.50,148.70 C644.97,153.30 648.65,163.58 651.90,165.50 C655.15,167.42 657.93,160.43 661.00,160.20 C664.07,159.97 666.47,163.33 670.30,164.10 C674.13,164.87 681.72,164.68 684.00,164.80" fill="none" stroke="#f7b58a" stroke-width="1.5"/>
<path d="M569.00,194.70 C569.77,195.28 571.30,198.65 573.60,198.20 C575.90,197.75 580.30,192.77 582.80,192.00 C585.30,191.23 586.30,196.40 588.60,193.60 C590.90,190.80 593.92,180.12 596.60,175.20 C599.28,170.28 602.20,164.87 604.70,164.10 C607.20,163.33 609.38,165.12 611.60,170.60 C613.82,176.08 615.90,195.85 618.00,197.00 C620.10,198.15 621.63,182.22 624.20,177.50 C626.77,172.78 630.33,168.90 633.40,168.70 C636.47,168.50 639.52,173.00 642.60,176.30 C645.68,179.60 648.83,186.58 651.90,188.50 C654.97,190.42 657.93,186.77 661.00,187.80 C664.07,188.83 666.47,193.28 670.30,194.70 C674.13,196.12 681.72,196.03 684.00,196.30" fill="none" stroke="#1a1a1a" stroke-width="1.5"/>
<path d="M569.00,303.10 C569.67,303.37 570.85,305.50 573.00,304.70 C575.15,303.90 579.25,298.63 581.90,298.30 C584.55,297.97 586.58,305.28 588.90,302.70 C591.22,300.12 593.15,288.50 595.80,282.80 C598.45,277.10 602.15,269.48 604.80,268.50 C607.45,267.52 609.62,272.92 611.70,276.90 C613.78,280.88 615.30,292.40 617.30,292.40 C619.30,292.40 621.65,280.42 623.70,276.90 C625.75,273.38 627.45,270.97 629.60,271.30 C631.75,271.63 634.12,275.98 636.60,278.90 C639.08,281.82 641.85,286.48 644.50,288.80 C647.15,291.12 648.85,289.88 652.50,292.80 C656.15,295.72 661.15,304.15 666.40,306.30 C671.65,308.45 681.07,305.80 684.00,305.70" fill="none" stroke="#7f8cf2" stroke-width="1.5"/>
<path d="M569.00,341.50 C570.50,341.07 575.35,339.00 578.00,338.90 C580.65,338.80 582.10,343.95 584.90,340.90 C587.70,337.85 591.65,326.13 594.80,320.60 C597.95,315.07 601.15,308.37 603.80,307.70 C606.45,307.03 608.45,312.53 610.70,316.60 C612.95,320.67 615.13,332.10 617.30,332.10 C619.47,332.10 621.48,320.07 623.70,316.60 C625.92,313.13 627.28,309.97 630.60,311.30 C633.92,312.63 640.28,322.32 643.60,324.60 C646.92,326.88 646.37,322.75 650.50,325.00 C654.63,327.25 662.82,335.35 668.40,338.10 C673.98,340.85 681.40,340.93 684.00,341.50" fill="none" stroke="#f27f80" stroke-width="1.5"/>
<path d="M569.00,373.40 C569.77,373.67 571.30,375.77 573.60,375.00 C575.90,374.23 580.12,369.07 582.80,368.80 C585.48,368.53 587.20,376.67 589.70,373.40 C592.20,370.13 595.20,355.47 597.80,349.20 C600.40,342.93 603.00,336.57 605.30,335.80 C607.60,335.03 609.40,339.10 611.60,344.60 C613.80,350.10 616.35,368.23 618.50,368.80 C620.65,369.37 622.37,352.50 624.50,348.00 C626.63,343.50 628.28,340.45 631.30,341.80 C634.32,343.15 639.17,353.52 642.60,356.10 C646.03,358.68 646.90,353.92 651.90,357.30 C656.90,360.68 667.25,373.45 672.60,376.40 C677.95,379.35 682.10,375.23 684.00,375.00" fill="none" stroke="#62c4f6" stroke-width="1.5"/>
<path d="M569.00,409.00 C569.77,409.38 571.30,411.75 573.60,411.30 C575.90,410.85 580.12,406.48 582.80,406.30 C585.48,406.12 587.20,413.38 589.70,410.20 C592.20,407.02 595.18,392.30 597.80,387.20 C600.42,382.10 602.92,378.65 605.40,379.60 C607.88,380.55 610.63,388.18 612.70,392.90 C614.77,397.62 615.88,408.67 617.80,407.90 C619.72,407.13 622.05,392.72 624.20,388.30 C626.35,383.88 628.40,381.02 630.70,381.40 C633.00,381.78 635.43,387.45 638.00,390.60 C640.57,393.75 643.40,398.83 646.10,400.30 C648.80,401.77 649.78,397.37 654.20,399.40 C658.62,401.43 667.63,410.20 672.60,412.50 C677.57,414.80 682.10,413.08 684.00,413.20" fill="none" stroke="#f7b58a" stroke-width="1.5"/>
<path d="M569.00,445.40 C569.58,445.67 570.38,448.00 572.50,447.00 C574.62,446.00 579.02,439.90 581.70,439.40 C584.38,438.90 586.12,447.52 588.60,444.00 C591.08,440.48 593.85,425.28 596.60,418.30 C599.35,411.32 602.60,403.65 605.10,402.10 C607.60,400.55 609.48,404.67 611.60,409.00 C613.72,413.33 615.70,427.72 617.80,428.10 C619.90,428.48 622.05,414.93 624.20,411.30 C626.35,407.67 628.40,405.52 630.70,406.30 C633.00,407.08 635.43,410.93 638.00,416.00 C640.57,421.07 643.40,432.48 646.10,436.70 C648.80,440.92 650.93,439.38 654.20,441.30 C657.47,443.22 662.25,447.37 665.70,448.20 C669.15,449.03 671.85,446.50 674.90,446.30 C677.95,446.10 682.48,446.88 684.00,447.00" fill="none" stroke="#1a1a1a" stroke-width="1.5"/>
</svg>
</body></html>
